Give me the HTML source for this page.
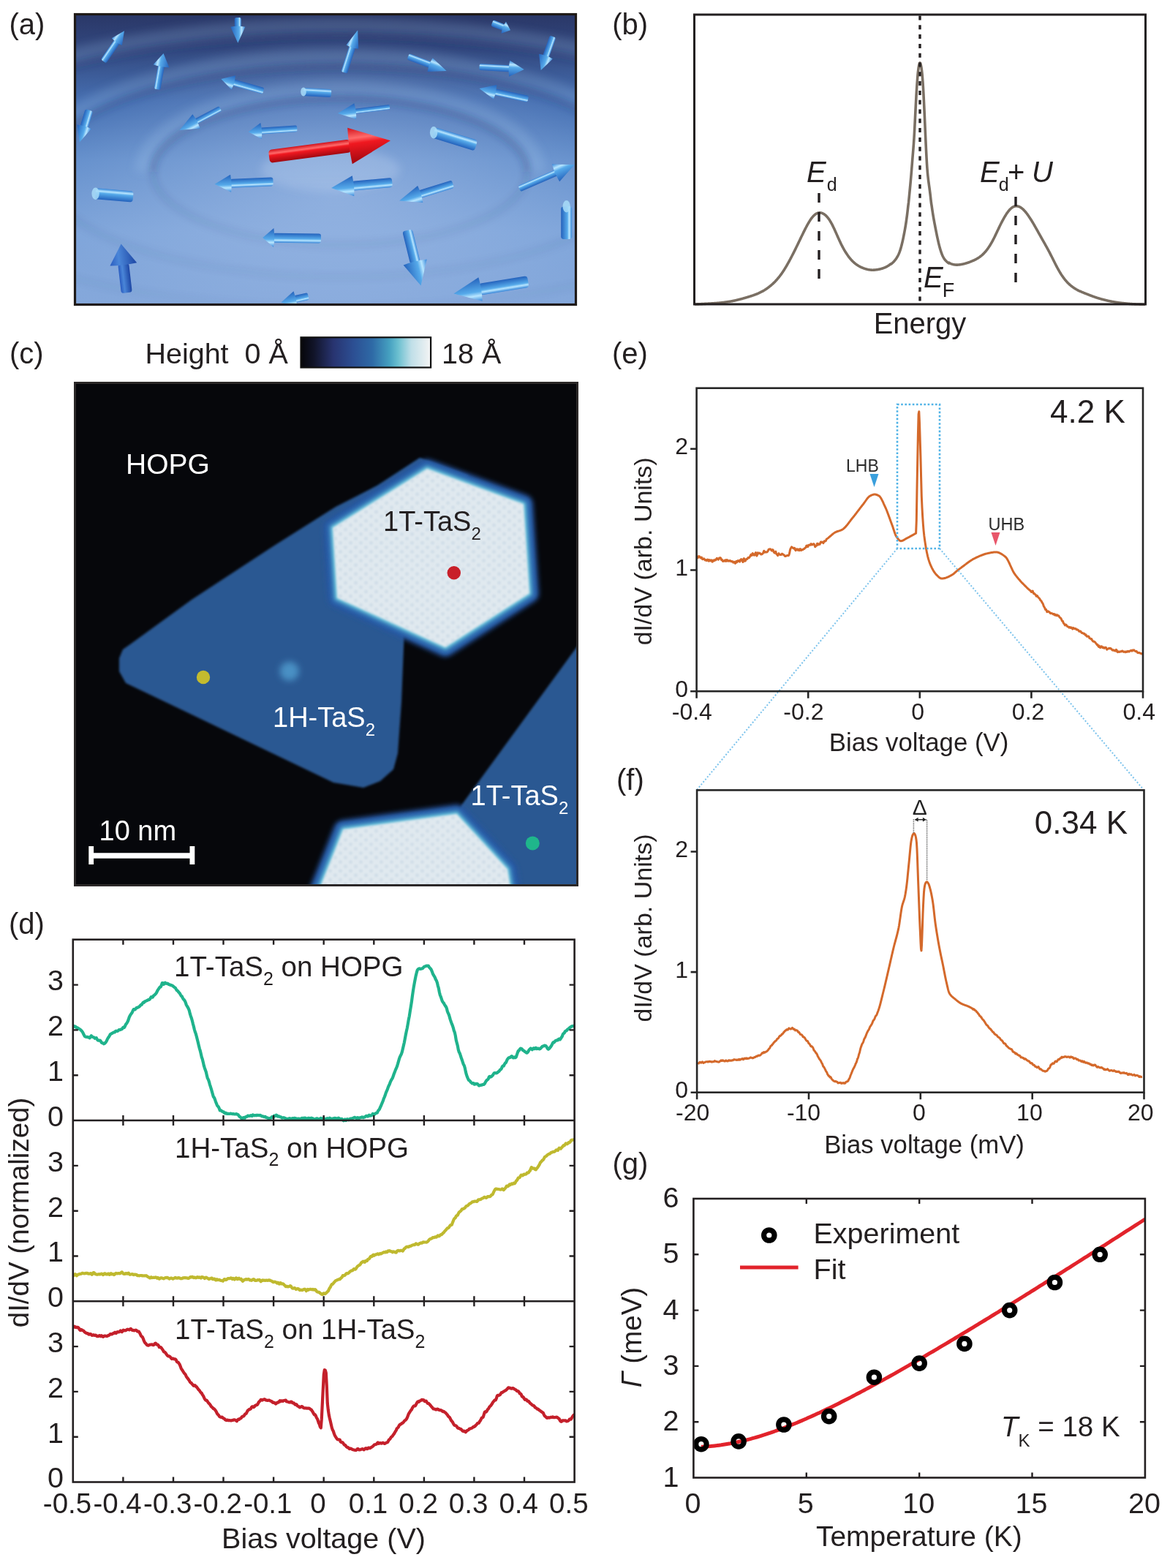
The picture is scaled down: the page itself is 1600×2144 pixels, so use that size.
<!DOCTYPE html><html><head><meta charset="utf-8"><title>Figure</title><style>html,body{margin:0;padding:0;background:#fff;}svg{display:block;}</style></head><body>
<svg width="1600" height="2144" viewBox="0 0 1600 2144" font-family="'Liberation Sans', Arial, Helvetica, sans-serif">
<rect width="1600" height="2144" fill="#fff"/>
<linearGradient id="abg" x1="0" y1="0" x2="0" y2="1"><stop offset="0" stop-color="#2a3767"/><stop offset="0.12" stop-color="#32487f"/><stop offset="0.3" stop-color="#4770b2"/><stop offset="0.5" stop-color="#6590cc"/><stop offset="0.75" stop-color="#7fa5da"/><stop offset="1" stop-color="#85a8db"/></linearGradient>
<radialGradient id="aglow" cx="0.52" cy="0.62" r="0.55"><stop offset="0" stop-color="#a6c0e8" stop-opacity="0.55"/><stop offset="1" stop-color="#a6c0e8" stop-opacity="0"/></radialGradient>
<linearGradient id="ablue" x1="0" y1="0" x2="0" y2="1"><stop offset="0" stop-color="#3484d8"/><stop offset="0.25" stop-color="#b8e6ff"/><stop offset="0.42" stop-color="#56aaea"/><stop offset="1" stop-color="#2462bc"/></linearGradient>
<linearGradient id="adark" x1="0" y1="0" x2="0" y2="1"><stop offset="0" stop-color="#2a5cc0"/><stop offset="0.35" stop-color="#4a86d8"/><stop offset="1" stop-color="#1d46a4"/></linearGradient>
<linearGradient id="ared" x1="0" y1="0" x2="0" y2="1"><stop offset="0" stop-color="#d0101a"/><stop offset="0.3" stop-color="#ff6a6a"/><stop offset="0.45" stop-color="#f01820"/><stop offset="1" stop-color="#a00810"/></linearGradient>
<clipPath id="clipa"><rect x="102.5" y="19.5" width="685.0" height="397.0"/></clipPath>
<filter id="abl" filterUnits="userSpaceOnUse" x="80" y="0" width="730" height="440"><feGaussianBlur stdDeviation="6"/></filter>
<filter id="abl2" x="-20%" y="-20%" width="140%" height="140%"><feGaussianBlur stdDeviation="1"/></filter>
<filter id="abl3" filterUnits="userSpaceOnUse" x="80" y="0" width="730" height="440"><feGaussianBlur stdDeviation="4"/></filter>
<g clip-path="url(#clipa)">
<rect x="102.5" y="19.5" width="685.0" height="397.0" fill="url(#abg)"/>
<rect x="102.5" y="19.5" width="685.0" height="397.0" fill="url(#aglow)"/>
<linearGradient id="afade" x1="0" y1="0" x2="0" y2="1"><stop offset="0" stop-color="#fff"/><stop offset="0.55" stop-color="#fff"/><stop offset="1" stop-color="#fff" stop-opacity="0.25"/></linearGradient>
<mask id="amask"><rect x="102.5" y="19.5" width="685.0" height="397.0" fill="url(#afade)"/></mask>
<g mask="url(#amask)">
<ellipse cx="452" cy="232" rx="95" ry="30" fill="#dbe8fa" fill-opacity="0.22" filter="url(#abl)"/>
<path d="M195,235 A270,114 0 0 1 735,235" fill="none" stroke="#b4d0f4" stroke-opacity="0.18" stroke-width="22" filter="url(#abl)"/>
<path d="M209,235 A256,100 0 0 1 721,235" fill="none" stroke="#1a3068" stroke-opacity="0.22" stroke-width="10" filter="url(#abl3)"/>
<path d="M209,235 A256,100 0 0 0 721,235" fill="none" stroke="#1a2a5a" stroke-opacity="0.10" stroke-width="9" filter="url(#abl3)"/>
<path d="M45,235 A420,158 0 0 1 885,235" fill="none" stroke="#b4d0f4" stroke-opacity="0.18" stroke-width="22" filter="url(#abl)"/>
<path d="M59,235 A406,144 0 0 1 871,235" fill="none" stroke="#1a3068" stroke-opacity="0.22" stroke-width="10" filter="url(#abl3)"/>
<path d="M59,235 A406,144 0 0 0 871,235" fill="none" stroke="#1a2a5a" stroke-opacity="0.10" stroke-width="9" filter="url(#abl3)"/>
<path d="M-135,235 A600,200 0 0 1 1065,235" fill="none" stroke="#b4d0f4" stroke-opacity="0.18" stroke-width="22" filter="url(#abl)"/>
<path d="M-121,235 A586,186 0 0 1 1051,235" fill="none" stroke="#1a3068" stroke-opacity="0.22" stroke-width="10" filter="url(#abl3)"/>
<path d="M-121,235 A586,186 0 0 0 1051,235" fill="none" stroke="#1a2a5a" stroke-opacity="0.10" stroke-width="9" filter="url(#abl3)"/>
</g>
<g transform="translate(141.6,83.9) rotate(-55.7)" opacity="1.0"><rect x="0" y="-4.4" width="33.36983224113418" height="8.8" rx="2.2" fill="url(#ablue)"/><path d="M32.36983224113418,-8.5 L50.36983224113418,0 L32.36983224113418,8.5 Q30.369832241134183,0 32.36983224113418,-8.5 Z" fill="url(#ablue)"/></g>
<g transform="translate(214.9,122.2) rotate(-80.0)" opacity="1.0"><rect x="0" y="-4.4" width="33.46328652120475" height="8.8" rx="2.2" fill="url(#ablue)"/><path d="M32.46328652120475,-11.0 L49.96328652120475,0 L32.46328652120475,11.0 Q30.46328652120475,0 32.46328652120475,-11.0 Z" fill="url(#ablue)"/></g>
<g transform="translate(325.3,24) rotate(90.0)" opacity="1.0"><rect x="0" y="-4.5" width="13.799999999999997" height="9" rx="2.25" fill="url(#ablue)"/><path d="M12.799999999999997,-10.0 L34.8,0 L12.799999999999997,10.0 Q10.799999999999997,0 12.799999999999997,-10.0 Z" fill="url(#ablue)"/></g>
<g transform="translate(121.9,150.6) rotate(106.7)" opacity="1.0"><rect x="0" y="-5.5" width="24.71706464767835" height="11" rx="2.75" fill="url(#ablue)"/><path d="M23.71706464767835,-10.0 L45.71706464767835,0 L23.71706464767835,10.0 Q21.71706464767835,0 23.71706464767835,-10.0 Z" fill="url(#ablue)"/></g>
<g transform="translate(360.3,124.4) rotate(-164.2)" opacity="1.0"><rect x="0" y="-4.4" width="43.677819834221346" height="8.8" rx="2.2" fill="url(#ablue)"/><path d="M42.677819834221346,-10.0 L60.177819834221346,0 L42.677819834221346,10.0 Q40.677819834221346,0 42.677819834221346,-10.0 Z" fill="url(#ablue)"/></g>
<g transform="translate(301.3,148.5) rotate(152.1)" opacity="1.0"><rect x="0" y="-3.85" width="38.118063975378725" height="7.7" rx="1.925" fill="url(#ablue)"/><path d="M37.118063975378725,-11.0 L63.118063975378725,0 L37.118063975378725,11.0 Q35.118063975378725,0 37.118063975378725,-11.0 Z" fill="url(#ablue)"/></g>
<g transform="translate(406.3,175.8) rotate(176.2)" opacity="1.0"><rect x="0" y="-4.4" width="50.34496989302933" height="8.8" rx="2.2" fill="url(#ablue)"/><path d="M49.34496989302933,-11.0 L66.84496989302933,0 L49.34496989302933,11.0 Q47.34496989302933,0 49.34496989302933,-11.0 Z" fill="url(#ablue)"/></g>
<g transform="translate(470.6,99.2) rotate(-72.2)" opacity="1.0"><rect x="0" y="-4.4" width="37.81422530954414" height="8.8" rx="2.2" fill="url(#ablue)"/><path d="M36.81422530954414,-8.75 L60.81422530954414,0 L36.81422530954414,8.75 Q34.81422530954414,0 36.81422530954414,-8.75 Z" fill="url(#ablue)"/></g>
<g transform="translate(558.1,77.3) rotate(20.6)" opacity="1.0"><rect x="0" y="-4.4" width="33.07441484313501" height="8.8" rx="2.2" fill="url(#ablue)"/><path d="M32.07441484313501,-10.0 L56.07441484313501,0 L32.07441484313501,10.0 Q30.07441484313501,0 32.07441484313501,-10.0 Z" fill="url(#ablue)"/></g>
<g transform="translate(655.5,91.6) rotate(3.1)" opacity="1.0"><rect x="0" y="-4.4" width="42.28890601079453" height="8.8" rx="2.2" fill="url(#ablue)"/><path d="M41.28890601079453,-11.0 L61.28890601079453,0 L41.28890601079453,11.0 Q39.28890601079453,0 41.28890601079453,-11.0 Z" fill="url(#ablue)"/></g>
<g transform="translate(673,31.4) rotate(21.6)" opacity="1.0"><rect x="0" y="-4.5" width="17.88884527085535" height="9" rx="2.25" fill="url(#ablue)"/><path d="M16.88884527085535,-8.75 L26.88884527085535,0 L16.88884527085535,8.75 Q14.888845270855349,0 16.88884527085535,-8.75 Z" fill="url(#ablue)"/></g>
<g transform="translate(756.1,50) rotate(109.6)" opacity="1.0"><rect x="0" y="-4.4" width="29.836052256504104" height="8.8" rx="2.2" fill="url(#ablue)"/><path d="M28.836052256504104,-10.0 L48.836052256504104,0 L28.836052256504104,10.0 Q26.836052256504104,0 28.836052256504104,-10.0 Z" fill="url(#ablue)"/></g>
<g transform="translate(722.2,135.3) rotate(-168.0)" opacity="1.0"><rect x="0" y="-4.4" width="47.19479452274936" height="8.8" rx="2.2" fill="url(#ablue)"/><path d="M46.19479452274936,-10.0 L68.19479452274936,0 L46.19479452274936,10.0 Q44.19479452274936,0 46.19479452274936,-10.0 Z" fill="url(#ablue)"/></g>
<g transform="translate(533,146.3) rotate(173.0)" opacity="1.0"><rect x="0" y="-3.3" width="48.63030085096672" height="6.6" rx="1.65" fill="url(#ablue)"/><path d="M47.63030085096672,-11.0 L71.63030085096672,0 L47.63030085096672,11.0 Q45.63030085096672,0 47.63030085096672,-11.0 Z" fill="url(#ablue)"/></g>
<g transform="translate(373.5,248.3) rotate(177.6)" opacity="1.0"><rect x="0" y="-6.0" width="58.96811864737094" height="12" rx="3.0" fill="url(#ablue)"/><path d="M57.96811864737094,-12.0 L79.96811864737094,0 L57.96811864737094,12.0 Q55.96811864737094,0 57.96811864737094,-12.0 Z" fill="url(#ablue)"/></g>
<g transform="translate(439,326) rotate(-179.2)" opacity="1.0"><rect x="0" y="-6.5" width="65.80758109352772" height="13" rx="3.25" fill="url(#ablue)"/><path d="M64.80758109352772,-13.0 L79.80758109352772,0 L64.80758109352772,13.0 Q62.807581093527716,0 64.80758109352772,-13.0 Z" fill="url(#ablue)"/></g>
<g transform="translate(421.6,405) rotate(167.1)" opacity="1.0"><rect x="0" y="-5.0" width="19.158747358895354" height="10" rx="2.5" fill="url(#ablue)"/><path d="M18.158747358895354,-11.0 L38.158747358895354,0 L18.158747358895354,11.0 Q16.158747358895354,0 18.158747358895354,-11.0 Z" fill="url(#ablue)"/></g>
<g transform="translate(536.3,249.4) rotate(174.8)" opacity="1.0"><rect x="0" y="-6.5" width="54.54639429682162" height="13" rx="3.25" fill="url(#ablue)"/><path d="M53.54639429682162,-14.0 L83.54639429682162,0 L53.54639429682162,14.0 Q51.54639429682162,0 53.54639429682162,-14.0 Z" fill="url(#ablue)"/></g>
<g transform="translate(619.4,251.6) rotate(162.7)" opacity="1.0"><rect x="0" y="-5.5" width="47.793879964486706" height="11" rx="2.75" fill="url(#ablue)"/><path d="M46.793879964486706,-12.0 L76.7938799644867,0 L46.793879964486706,12.0 Q44.793879964486706,0 46.793879964486706,-12.0 Z" fill="url(#ablue)"/></g>
<g transform="translate(710.2,258.1) rotate(-23.5)" opacity="1.0"><rect x="0" y="-4.4" width="55.31700917793357" height="8.8" rx="2.2" fill="url(#ablue)"/><path d="M54.31700917793357,-13.0 L82.31700917793357,0 L54.31700917793357,13.0 Q52.31700917793357,0 54.31700917793357,-13.0 Z" fill="url(#ablue)"/></g>
<g transform="translate(557,315) rotate(76.2)" opacity="1.0"><rect x="0" y="-7.0" width="45.75737907105666" height="14" rx="3.5" fill="url(#ablue)"/><path d="M44.75737907105666,-16.5 L77.75737907105666,0 L44.75737907105666,16.5 Q42.75737907105666,0 44.75737907105666,-16.5 Z" fill="url(#ablue)"/></g>
<g transform="translate(722.2,385) rotate(170.8)" opacity="1.0"><rect x="0" y="-8.0" width="67.01383402242637" height="16" rx="4.0" fill="url(#ablue)"/><path d="M66.01383402242637,-16.5 L103.01383402242637,0 L66.01383402242637,16.5 Q64.01383402242637,0 66.01383402242637,-16.5 Z" fill="url(#ablue)"/></g>
<g transform="translate(415,125.5) rotate(3.4)" opacity="1.0"><rect x="0" y="-5.5" width="38.06534769835567" height="11" rx="2.75" fill="url(#ablue)"/></g>
<ellipse cx="415" cy="125.5" rx="3.8" ry="6.1" fill="#a8dcf8" opacity="0.85"/>
<g transform="translate(593.1,181.3) rotate(17.1)" opacity="1.0"><rect x="0" y="-7.5" width="60.53032840493993" height="15" rx="3.75" fill="url(#ablue)"/></g>
<ellipse cx="593.1" cy="181.3" rx="5.2" ry="8.2" fill="#a8dcf8" opacity="0.85"/>
<g transform="translate(130.6,264.7) rotate(4.9)" opacity="1.0"><rect x="0" y="-7.5" width="51.5830999445467" height="15" rx="3.75" fill="url(#ablue)"/></g>
<ellipse cx="130.6" cy="264.7" rx="5.2" ry="8.2" fill="#a8dcf8" opacity="0.85"/>
<g transform="translate(774.7,282.2) rotate(90.0)" opacity="1.0"><rect x="0" y="-7.5" width="44.80000000000001" height="15" rx="3.75" fill="url(#ablue)"/></g>
<ellipse cx="774.7" cy="282.2" rx="5.2" ry="8.2" fill="#a8dcf8" opacity="0.85"/>
<g transform="translate(173.3,400.3) rotate(-96.6)" opacity="1.0"><rect x="0" y="-7.5" width="40.14298176280228" height="15" rx="3.75" fill="url(#adark)"/><path d="M39.14298176280228,-18.5 L67.14298176280228,0 L39.14298176280228,18.5 Q37.14298176280228,0 39.14298176280228,-18.5 Z" fill="url(#adark)"/></g>
<g transform="translate(368,214) rotate(-7.5)" opacity="1.0"><rect x="0" y="-9.0" width="112.42532663847487" height="18" rx="4.5" fill="url(#ared)"/><path d="M111.42532663847487,-25.0 L167.42532663847487,0 L111.42532663847487,25.0 Q109.42532663847487,0 111.42532663847487,-25.0 Z" fill="url(#ared)"/></g>
</g>
<rect x="102.5" y="19.5" width="685.0" height="397.0" fill="none" stroke="#1f1a17" stroke-width="3.2"/>
<path d="M950.00,416.02 L950.50,416.01 L951.00,416.00 L951.50,415.98 L952.00,415.97 L952.50,415.95 L953.00,415.93 L953.50,415.91 L954.00,415.89 L954.50,415.87 L955.00,415.85 L955.50,415.83 L956.00,415.81 L956.50,415.79 L957.00,415.76 L957.50,415.74 L958.00,415.71 L958.50,415.69 L959.00,415.66 L959.50,415.64 L960.00,415.61 L960.50,415.58 L961.00,415.55 L961.50,415.53 L962.00,415.50 L962.50,415.47 L963.00,415.45 L963.50,415.42 L964.00,415.39 L964.50,415.37 L965.00,415.34 L965.50,415.31 L966.00,415.29 L966.50,415.26 L967.00,415.23 L967.50,415.21 L968.00,415.18 L968.50,415.15 L969.00,415.13 L969.50,415.10 L970.00,415.08 L970.50,415.05 L971.00,415.02 L971.50,415.00 L972.00,414.97 L972.50,414.94 L973.00,414.91 L973.50,414.88 L974.00,414.85 L974.50,414.82 L975.00,414.79 L975.50,414.76 L976.00,414.73 L976.50,414.70 L977.00,414.66 L977.50,414.63 L978.00,414.59 L978.50,414.56 L979.00,414.52 L979.50,414.48 L980.00,414.44 L980.50,414.40 L981.00,414.36 L981.50,414.32 L982.00,414.28 L982.50,414.23 L983.00,414.18 L983.50,414.14 L984.00,414.09 L984.50,414.04 L985.00,413.99 L985.50,413.94 L986.00,413.88 L986.50,413.83 L987.00,413.78 L987.50,413.72 L988.00,413.66 L988.50,413.60 L989.00,413.54 L989.50,413.48 L990.00,413.42 L990.50,413.36 L991.00,413.29 L991.50,413.22 L992.00,413.16 L992.50,413.09 L993.00,413.02 L993.50,412.95 L994.00,412.88 L994.50,412.80 L995.00,412.73 L995.50,412.65 L996.00,412.58 L996.50,412.50 L997.00,412.42 L997.50,412.34 L998.00,412.26 L998.50,412.17 L999.00,412.09 L999.50,412.00 L1000.00,411.91 L1000.50,411.82 L1001.00,411.73 L1001.50,411.63 L1002.00,411.53 L1002.50,411.44 L1003.00,411.34 L1003.50,411.23 L1004.00,411.13 L1004.50,411.02 L1005.00,410.92 L1005.50,410.81 L1006.00,410.69 L1006.50,410.58 L1007.00,410.46 L1007.50,410.35 L1008.00,410.23 L1008.50,410.11 L1009.00,409.98 L1009.50,409.86 L1010.00,409.73 L1010.50,409.61 L1011.00,409.48 L1011.50,409.35 L1012.00,409.22 L1012.50,409.08 L1013.00,408.95 L1013.50,408.82 L1014.00,408.68 L1014.50,408.54 L1015.00,408.40 L1015.50,408.26 L1016.00,408.12 L1016.50,407.98 L1017.00,407.84 L1017.50,407.70 L1018.00,407.56 L1018.50,407.41 L1019.00,407.27 L1019.50,407.12 L1020.00,406.97 L1020.50,406.83 L1021.00,406.68 L1021.50,406.53 L1022.00,406.38 L1022.50,406.23 L1023.00,406.08 L1023.50,405.93 L1024.00,405.77 L1024.50,405.62 L1025.00,405.47 L1025.50,405.31 L1026.00,405.15 L1026.50,404.99 L1027.00,404.83 L1027.50,404.67 L1028.00,404.50 L1028.50,404.34 L1029.00,404.17 L1029.50,404.00 L1030.00,403.83 L1030.50,403.65 L1031.00,403.47 L1031.50,403.29 L1032.00,403.11 L1032.50,402.93 L1033.00,402.74 L1033.50,402.55 L1034.00,402.36 L1034.50,402.16 L1035.00,401.96 L1035.50,401.75 L1036.00,401.55 L1036.50,401.33 L1037.00,401.12 L1037.50,400.90 L1038.00,400.67 L1038.50,400.44 L1039.00,400.21 L1039.50,399.97 L1040.00,399.72 L1040.50,399.47 L1041.00,399.22 L1041.50,398.96 L1042.00,398.69 L1042.50,398.42 L1043.00,398.14 L1043.50,397.86 L1044.00,397.57 L1044.50,397.27 L1045.00,396.97 L1045.50,396.67 L1046.00,396.35 L1046.50,396.03 L1047.00,395.71 L1047.50,395.38 L1048.00,395.04 L1048.50,394.69 L1049.00,394.34 L1049.50,393.99 L1050.00,393.62 L1050.50,393.25 L1051.00,392.88 L1051.50,392.50 L1052.00,392.11 L1052.50,391.71 L1053.00,391.31 L1053.50,390.90 L1054.00,390.49 L1054.50,390.07 L1055.00,389.64 L1055.50,389.20 L1056.00,388.75 L1056.50,388.30 L1057.00,387.84 L1057.50,387.37 L1058.00,386.90 L1058.50,386.41 L1059.00,385.92 L1059.50,385.41 L1060.00,384.90 L1060.50,384.38 L1061.00,383.85 L1061.50,383.31 L1062.00,382.76 L1062.50,382.20 L1063.00,381.63 L1063.50,381.05 L1064.00,380.46 L1064.50,379.86 L1065.00,379.25 L1065.50,378.63 L1066.00,377.99 L1066.50,377.35 L1067.00,376.69 L1067.50,376.02 L1068.00,375.34 L1068.50,374.64 L1069.00,373.94 L1069.50,373.22 L1070.00,372.49 L1070.50,371.75 L1071.00,371.00 L1071.50,370.23 L1072.00,369.46 L1072.50,368.67 L1073.00,367.87 L1073.50,367.06 L1074.00,366.24 L1074.50,365.41 L1075.00,364.57 L1075.50,363.72 L1076.00,362.86 L1076.50,361.99 L1077.00,361.11 L1077.50,360.23 L1078.00,359.33 L1078.50,358.43 L1079.00,357.52 L1079.50,356.61 L1080.00,355.68 L1080.50,354.75 L1081.00,353.82 L1081.50,352.87 L1082.00,351.92 L1082.50,350.97 L1083.00,350.01 L1083.50,349.04 L1084.00,348.06 L1084.50,347.09 L1085.00,346.10 L1085.50,345.11 L1086.00,344.12 L1086.50,343.12 L1087.00,342.11 L1087.50,341.10 L1088.00,340.09 L1088.50,339.07 L1089.00,338.05 L1089.50,337.02 L1090.00,336.00 L1090.50,334.96 L1091.00,333.93 L1091.50,332.89 L1092.00,331.86 L1092.50,330.82 L1093.00,329.78 L1093.50,328.74 L1094.00,327.69 L1094.50,326.65 L1095.00,325.61 L1095.50,324.57 L1096.00,323.54 L1096.50,322.50 L1097.00,321.47 L1097.50,320.44 L1098.00,319.42 L1098.50,318.40 L1099.00,317.39 L1099.50,316.38 L1100.00,315.38 L1100.50,314.39 L1101.00,313.41 L1101.50,312.44 L1102.00,311.47 L1102.50,310.52 L1103.00,309.58 L1103.50,308.65 L1104.00,307.74 L1104.50,306.84 L1105.00,305.95 L1105.50,305.09 L1106.00,304.23 L1106.50,303.40 L1107.00,302.59 L1107.50,301.80 L1108.00,301.02 L1108.50,300.28 L1109.00,299.55 L1109.50,298.85 L1110.00,298.17 L1110.50,297.52 L1111.00,296.90 L1111.50,296.31 L1112.00,295.74 L1112.50,295.21 L1113.00,294.70 L1113.50,294.23 L1114.00,293.79 L1114.50,293.38 L1115.00,293.00 L1115.50,292.65 L1116.00,292.33 L1116.50,292.05 L1117.00,291.79 L1117.50,291.57 L1118.00,291.38 L1118.50,291.22 L1119.00,291.09 L1119.50,290.99 L1120.00,290.92 L1120.50,290.88 L1121.00,290.87 L1121.50,290.88 L1122.00,290.93 L1122.50,291.00 L1123.00,291.10 L1123.50,291.23 L1124.00,291.38 L1124.50,291.56 L1125.00,291.77 L1125.50,292.01 L1126.00,292.27 L1126.50,292.56 L1127.00,292.88 L1127.50,293.22 L1128.00,293.60 L1128.50,294.00 L1129.00,294.43 L1129.50,294.88 L1130.00,295.37 L1130.50,295.89 L1131.00,296.44 L1131.50,297.01 L1132.00,297.62 L1132.50,298.25 L1133.00,298.92 L1133.50,299.62 L1134.00,300.34 L1134.50,301.10 L1135.00,301.88 L1135.50,302.70 L1136.00,303.54 L1136.50,304.41 L1137.00,305.31 L1137.50,306.23 L1138.00,307.18 L1138.50,308.15 L1139.00,309.15 L1139.50,310.17 L1140.00,311.20 L1140.50,312.26 L1141.00,313.33 L1141.50,314.42 L1142.00,315.52 L1142.50,316.63 L1143.00,317.75 L1143.50,318.88 L1144.00,320.01 L1144.50,321.14 L1145.00,322.27 L1145.50,323.40 L1146.00,324.52 L1146.50,325.64 L1147.00,326.75 L1147.50,327.85 L1148.00,328.94 L1148.50,330.02 L1149.00,331.08 L1149.50,332.13 L1150.00,333.17 L1150.50,334.18 L1151.00,335.18 L1151.50,336.17 L1152.00,337.13 L1152.50,338.08 L1153.00,339.01 L1153.50,339.92 L1154.00,340.82 L1154.50,341.70 L1155.00,342.56 L1155.50,343.40 L1156.00,344.23 L1156.50,345.04 L1157.00,345.83 L1157.50,346.60 L1158.00,347.36 L1158.50,348.10 L1159.00,348.83 L1159.50,349.53 L1160.00,350.22 L1160.50,350.90 L1161.00,351.56 L1161.50,352.20 L1162.00,352.82 L1162.50,353.43 L1163.00,354.02 L1163.50,354.60 L1164.00,355.16 L1164.50,355.70 L1165.00,356.23 L1165.50,356.75 L1166.00,357.25 L1166.50,357.73 L1167.00,358.20 L1167.50,358.66 L1168.00,359.10 L1168.50,359.53 L1169.00,359.95 L1169.50,360.36 L1170.00,360.75 L1170.50,361.13 L1171.00,361.49 L1171.50,361.85 L1172.00,362.20 L1172.50,362.53 L1173.00,362.85 L1173.50,363.16 L1174.00,363.47 L1174.50,363.76 L1175.00,364.04 L1175.50,364.32 L1176.00,364.58 L1176.50,364.84 L1177.00,365.09 L1177.50,365.33 L1178.00,365.56 L1178.50,365.78 L1179.00,366.00 L1179.50,366.21 L1180.00,366.42 L1180.50,366.62 L1181.00,366.81 L1181.50,366.99 L1182.00,367.17 L1182.50,367.34 L1183.00,367.50 L1183.50,367.66 L1184.00,367.81 L1184.50,367.95 L1185.00,368.09 L1185.50,368.22 L1186.00,368.34 L1186.50,368.45 L1187.00,368.56 L1187.50,368.65 L1188.00,368.74 L1188.50,368.83 L1189.00,368.90 L1189.50,368.96 L1190.00,369.02 L1190.50,369.07 L1191.00,369.11 L1191.50,369.14 L1192.00,369.16 L1192.50,369.18 L1193.00,369.19 L1193.50,369.19 L1194.00,369.18 L1194.50,369.17 L1195.00,369.15 L1195.50,369.12 L1196.00,369.09 L1196.50,369.05 L1197.00,369.00 L1197.50,368.95 L1198.00,368.89 L1198.50,368.82 L1199.00,368.76 L1199.50,368.68 L1200.00,368.60 L1200.50,368.52 L1201.00,368.43 L1201.50,368.33 L1202.00,368.23 L1202.50,368.13 L1203.00,368.02 L1203.50,367.90 L1204.00,367.78 L1204.50,367.65 L1205.00,367.52 L1205.50,367.38 L1206.00,367.23 L1206.50,367.08 L1207.00,366.92 L1207.50,366.75 L1208.00,366.58 L1208.50,366.40 L1209.00,366.20 L1209.50,366.00 L1210.00,365.79 L1210.50,365.57 L1211.00,365.34 L1211.50,365.11 L1212.00,364.85 L1212.50,364.59 L1213.00,364.32 L1213.50,364.04 L1214.00,363.74 L1214.50,363.43 L1215.00,363.11 L1215.50,362.78 L1216.00,362.43 L1216.50,362.06 L1217.00,361.69 L1217.50,361.29 L1218.00,360.88 L1218.50,361.11 L1219.00,360.71 L1219.50,360.30 L1220.00,359.87 L1220.50,359.42 L1221.00,358.96 L1221.50,358.48 L1222.00,357.97 L1222.50,357.44 L1223.00,356.88 L1223.50,356.30 L1224.00,355.68 L1224.50,355.04 L1225.00,354.37 L1225.50,353.66 L1226.00,352.92 L1226.50,352.13 L1227.00,351.30 L1227.50,350.42 L1228.00,349.48 L1228.50,348.47 L1229.00,347.39 L1229.50,346.22 L1230.00,344.97 L1230.50,343.62 L1231.00,342.17 L1231.50,340.60 L1232.00,338.92 L1232.50,337.12 L1233.00,335.21 L1233.50,333.19 L1234.00,331.07 L1234.50,328.85 L1235.00,326.54 L1235.50,324.15 L1236.00,321.69 L1236.50,319.14 L1237.00,316.50 L1237.50,313.75 L1238.00,310.88 L1238.50,307.84 L1239.00,304.63 L1239.50,301.21 L1240.00,297.58 L1240.50,293.71 L1241.00,289.61 L1241.50,285.29 L1242.00,280.76 L1242.50,277.05 L1243.00,272.00 L1243.50,266.92 L1244.00,261.77 L1244.50,256.51 L1245.00,251.12 L1245.50,245.56 L1246.00,239.81 L1246.50,233.83 L1247.00,227.65 L1247.50,221.39 L1248.00,215.18 L1248.50,209.08 L1249.00,202.95 L1249.50,196.39 L1250.00,188.91 L1250.50,180.23 L1251.00,170.52 L1251.50,160.37 L1252.00,150.37 L1252.50,140.78 L1253.00,131.68 L1253.50,123.23 L1254.00,115.59 L1254.50,108.78 L1255.00,102.77 L1255.50,97.71 L1256.00,93.65 L1256.50,90.49 L1257.00,88.08 L1257.50,86.47 L1258.00,85.86 L1258.50,86.31 L1259.00,87.69 L1259.50,89.80 L1260.00,92.58 L1260.50,96.17 L1261.00,100.74 L1261.50,106.31 L1262.00,112.93 L1262.50,120.76 L1263.00,129.80 L1263.50,139.76 L1264.00,150.31 L1264.50,161.28 L1265.00,172.55 L1265.50,183.78 L1266.00,194.68 L1266.50,205.10 L1267.00,214.86 L1267.50,223.57 L1268.00,230.86 L1268.50,236.78 L1269.00,241.68 L1269.50,245.92 L1270.00,249.76 L1270.50,253.38 L1271.00,256.99 L1271.50,260.75 L1272.00,264.77 L1272.50,269.05 L1273.00,273.49 L1273.50,277.94 L1274.00,280.72 L1274.50,284.31 L1275.00,287.75 L1275.50,291.02 L1276.00,294.13 L1276.50,297.08 L1277.00,299.92 L1277.50,302.66 L1278.00,305.32 L1278.50,307.95 L1279.00,310.54 L1279.50,313.10 L1280.00,315.64 L1280.50,318.14 L1281.00,320.61 L1281.50,323.03 L1282.00,325.39 L1282.50,327.69 L1283.00,329.91 L1283.50,332.06 L1284.00,334.12 L1284.50,336.10 L1285.00,337.99 L1285.50,339.78 L1286.00,341.48 L1286.50,343.08 L1287.00,344.58 L1287.50,345.99 L1288.00,347.30 L1288.50,348.53 L1289.00,349.67 L1289.50,350.72 L1290.00,351.69 L1290.50,352.58 L1291.00,353.40 L1291.50,354.15 L1292.00,354.83 L1292.50,355.47 L1293.00,356.05 L1293.50,356.59 L1294.00,357.09 L1294.50,357.57 L1295.00,358.02 L1295.50,358.45 L1296.00,358.86 L1296.50,359.25 L1297.00,359.61 L1297.50,359.95 L1298.00,359.19 L1298.50,359.52 L1299.00,359.82 L1299.50,360.10 L1300.00,360.36 L1300.50,360.59 L1301.00,360.80 L1301.50,361.00 L1302.00,361.17 L1302.50,361.33 L1303.00,361.47 L1303.50,361.59 L1304.00,361.70 L1304.50,361.80 L1305.00,361.88 L1305.50,361.95 L1306.00,362.00 L1306.50,362.05 L1307.00,362.08 L1307.50,362.10 L1308.00,362.12 L1308.50,362.12 L1309.00,362.12 L1309.50,362.10 L1310.00,362.08 L1310.50,362.05 L1311.00,362.01 L1311.50,361.96 L1312.00,361.91 L1312.50,361.85 L1313.00,361.78 L1313.50,361.71 L1314.00,361.63 L1314.50,361.54 L1315.00,361.45 L1315.50,361.35 L1316.00,361.25 L1316.50,361.15 L1317.00,361.04 L1317.50,360.92 L1318.00,360.80 L1318.50,360.67 L1319.00,360.55 L1319.50,360.41 L1320.00,360.27 L1320.50,360.13 L1321.00,359.99 L1321.50,359.84 L1322.00,359.68 L1322.50,359.52 L1323.00,359.36 L1323.50,359.20 L1324.00,359.03 L1324.50,358.85 L1325.00,358.68 L1325.50,358.50 L1326.00,358.31 L1326.50,358.13 L1327.00,357.93 L1327.50,357.74 L1328.00,357.54 L1328.50,357.34 L1329.00,357.13 L1329.50,356.92 L1330.00,356.71 L1330.50,356.49 L1331.00,356.27 L1331.50,356.04 L1332.00,355.81 L1332.50,355.57 L1333.00,355.33 L1333.50,355.08 L1334.00,354.83 L1334.50,354.57 L1335.00,354.30 L1335.50,354.02 L1336.00,353.74 L1336.50,353.45 L1337.00,353.16 L1337.50,352.85 L1338.00,352.53 L1338.50,352.21 L1339.00,351.87 L1339.50,351.53 L1340.00,351.17 L1340.50,350.80 L1341.00,350.42 L1341.50,350.03 L1342.00,349.63 L1342.50,349.21 L1343.00,348.78 L1343.50,348.33 L1344.00,347.87 L1344.50,347.39 L1345.00,346.90 L1345.50,346.39 L1346.00,345.87 L1346.50,345.33 L1347.00,344.77 L1347.50,344.20 L1348.00,343.61 L1348.50,343.01 L1349.00,342.38 L1349.50,341.74 L1350.00,341.09 L1350.50,340.41 L1351.00,339.72 L1351.50,339.01 L1352.00,338.29 L1352.50,337.54 L1353.00,336.78 L1353.50,336.00 L1354.00,335.20 L1354.50,334.38 L1355.00,333.55 L1355.50,332.69 L1356.00,331.82 L1356.50,330.92 L1357.00,330.01 L1357.50,329.08 L1358.00,328.14 L1358.50,327.18 L1359.00,326.20 L1359.50,325.20 L1360.00,324.20 L1360.50,323.18 L1361.00,322.15 L1361.50,321.11 L1362.00,320.06 L1362.50,319.01 L1363.00,317.95 L1363.50,316.89 L1364.00,315.83 L1364.50,314.77 L1365.00,313.72 L1365.50,312.67 L1366.00,311.62 L1366.50,310.59 L1367.00,309.56 L1367.50,308.53 L1368.00,307.52 L1368.50,306.52 L1369.00,305.53 L1369.50,304.55 L1370.00,303.59 L1370.50,302.63 L1371.00,301.69 L1371.50,300.77 L1372.00,299.85 L1372.50,298.95 L1373.00,298.07 L1373.50,297.20 L1374.00,296.35 L1374.50,295.51 L1375.00,294.69 L1375.50,293.89 L1376.00,293.11 L1376.50,292.34 L1377.00,291.60 L1377.50,290.88 L1378.00,290.18 L1378.50,289.51 L1379.00,288.86 L1379.50,288.23 L1380.00,287.63 L1380.50,287.06 L1381.00,286.52 L1381.50,286.00 L1382.00,285.51 L1382.50,285.05 L1383.00,284.62 L1383.50,284.23 L1384.00,283.86 L1384.50,283.52 L1385.00,283.21 L1385.50,282.93 L1386.00,282.69 L1386.50,282.47 L1387.00,282.29 L1387.50,282.13 L1388.00,282.01 L1388.50,281.91 L1389.00,281.85 L1389.50,281.81 L1390.00,281.80 L1390.50,281.83 L1391.00,281.87 L1391.50,281.95 L1392.00,282.05 L1392.50,282.19 L1393.00,282.34 L1393.50,282.53 L1394.00,282.73 L1394.50,282.97 L1395.00,283.23 L1395.50,283.51 L1396.00,283.82 L1396.50,284.16 L1397.00,284.51 L1397.50,284.89 L1398.00,285.30 L1398.50,285.72 L1399.00,286.17 L1399.50,286.64 L1400.00,287.13 L1400.50,287.64 L1401.00,288.18 L1401.50,288.73 L1402.00,289.30 L1402.50,289.89 L1403.00,290.50 L1403.50,291.12 L1404.00,291.76 L1404.50,292.42 L1405.00,293.09 L1405.50,293.78 L1406.00,294.48 L1406.50,295.19 L1407.00,295.92 L1407.50,296.65 L1408.00,297.40 L1408.50,298.16 L1409.00,298.94 L1409.50,299.72 L1410.00,300.51 L1410.50,301.31 L1411.00,302.12 L1411.50,302.94 L1412.00,303.77 L1412.50,304.61 L1413.00,305.45 L1413.50,306.30 L1414.00,307.16 L1414.50,308.02 L1415.00,308.89 L1415.50,309.77 L1416.00,310.64 L1416.50,311.53 L1417.00,312.41 L1417.50,313.30 L1418.00,314.19 L1418.50,315.09 L1419.00,315.98 L1419.50,316.88 L1420.00,317.77 L1420.50,318.67 L1421.00,319.56 L1421.50,320.45 L1422.00,321.35 L1422.50,322.24 L1423.00,323.13 L1423.50,324.01 L1424.00,324.90 L1424.50,325.79 L1425.00,326.67 L1425.50,327.55 L1426.00,328.44 L1426.50,329.32 L1427.00,330.20 L1427.50,331.08 L1428.00,331.96 L1428.50,332.85 L1429.00,333.73 L1429.50,334.62 L1430.00,335.51 L1430.50,336.41 L1431.00,337.31 L1431.50,338.21 L1432.00,339.12 L1432.50,340.04 L1433.00,340.96 L1433.50,341.89 L1434.00,342.82 L1434.50,343.76 L1435.00,344.71 L1435.50,345.67 L1436.00,346.63 L1436.50,347.61 L1437.00,348.58 L1437.50,349.57 L1438.00,350.55 L1438.50,351.55 L1439.00,352.54 L1439.50,353.54 L1440.00,354.54 L1440.50,355.54 L1441.00,356.54 L1441.50,357.54 L1442.00,358.53 L1442.50,359.52 L1443.00,360.51 L1443.50,361.49 L1444.00,362.46 L1444.50,363.42 L1445.00,364.37 L1445.50,365.32 L1446.00,366.25 L1446.50,367.17 L1447.00,368.08 L1447.50,368.97 L1448.00,369.86 L1448.50,370.72 L1449.00,371.58 L1449.50,372.42 L1450.00,373.24 L1450.50,374.05 L1451.00,374.84 L1451.50,375.62 L1452.00,376.38 L1452.50,377.12 L1453.00,377.85 L1453.50,378.56 L1454.00,379.26 L1454.50,379.94 L1455.00,380.61 L1455.50,381.26 L1456.00,381.89 L1456.50,382.51 L1457.00,383.12 L1457.50,383.71 L1458.00,384.28 L1458.50,384.84 L1459.00,385.39 L1459.50,385.93 L1460.00,386.45 L1460.50,386.95 L1461.00,387.45 L1461.50,387.93 L1462.00,388.40 L1462.50,388.86 L1463.00,389.31 L1463.50,389.75 L1464.00,390.18 L1464.50,390.59 L1465.00,391.00 L1465.50,391.39 L1466.00,391.78 L1466.50,392.15 L1467.00,392.52 L1467.50,392.88 L1468.00,393.23 L1468.50,393.57 L1469.00,393.90 L1469.50,394.23 L1470.00,394.54 L1470.50,394.85 L1471.00,395.15 L1471.50,395.45 L1472.00,395.73 L1472.50,396.01 L1473.00,396.29 L1473.50,396.55 L1474.00,396.81 L1474.50,397.07 L1475.00,397.31 L1475.50,397.56 L1476.00,397.79 L1476.50,398.03 L1477.00,398.25 L1477.50,398.48 L1478.00,398.70 L1478.50,398.91 L1479.00,399.13 L1479.50,399.34 L1480.00,399.55 L1480.50,399.75 L1481.00,399.96 L1481.50,400.16 L1482.00,400.36 L1482.50,400.56 L1483.00,400.76 L1483.50,400.96 L1484.00,401.15 L1484.50,401.35 L1485.00,401.55 L1485.50,401.75 L1486.00,401.94 L1486.50,402.14 L1487.00,402.34 L1487.50,402.53 L1488.00,402.73 L1488.50,402.93 L1489.00,403.12 L1489.50,403.32 L1490.00,403.51 L1490.50,403.70 L1491.00,403.90 L1491.50,404.09 L1492.00,404.28 L1492.50,404.47 L1493.00,404.66 L1493.50,404.84 L1494.00,405.03 L1494.50,405.21 L1495.00,405.39 L1495.50,405.57 L1496.00,405.75 L1496.50,405.93 L1497.00,406.10 L1497.50,406.27 L1498.00,406.44 L1498.50,406.61 L1499.00,406.78 L1499.50,406.94 L1500.00,407.10 L1500.50,407.27 L1501.00,407.42 L1501.50,407.58 L1502.00,407.74 L1502.50,407.89 L1503.00,408.04 L1503.50,408.19 L1504.00,408.34 L1504.50,408.49 L1505.00,408.63 L1505.50,408.77 L1506.00,408.91 L1506.50,409.05 L1507.00,409.19 L1507.50,409.33 L1508.00,409.46 L1508.50,409.59 L1509.00,409.72 L1509.50,409.85 L1510.00,409.98 L1510.50,410.11 L1511.00,410.23 L1511.50,410.35 L1512.00,410.47 L1512.50,410.59 L1513.00,410.71 L1513.50,410.83 L1514.00,410.94 L1514.50,411.06 L1515.00,411.17 L1515.50,411.28 L1516.00,411.39 L1516.50,411.50 L1517.00,411.60 L1517.50,411.71 L1518.00,411.81 L1518.50,411.91 L1519.00,412.01 L1519.50,412.11 L1520.00,412.21 L1520.50,412.31 L1521.00,412.40 L1521.50,412.49 L1522.00,412.59 L1522.50,412.68 L1523.00,412.77 L1523.50,412.85 L1524.00,412.94 L1524.50,413.02 L1525.00,413.11 L1525.50,413.19 L1526.00,413.27 L1526.50,413.35 L1527.00,413.43 L1527.50,413.50 L1528.00,413.58 L1528.50,413.65 L1529.00,413.72 L1529.50,413.79 L1530.00,413.86 L1530.50,413.93 L1531.00,414.00 L1531.50,414.06 L1532.00,414.12 L1532.50,414.19 L1533.00,414.25 L1533.50,414.31 L1534.00,414.37 L1534.50,414.43 L1535.00,414.49 L1535.50,414.54 L1536.00,414.60 L1536.50,414.65 L1537.00,414.70 L1537.50,414.76 L1538.00,414.81 L1538.50,414.86 L1539.00,414.91 L1539.50,414.96 L1540.00,415.00 L1540.50,415.05 L1541.00,415.10 L1541.50,415.14 L1542.00,415.18 L1542.50,415.23 L1543.00,415.27 L1543.50,415.31 L1544.00,415.35 L1544.50,415.39 L1545.00,415.43 L1545.50,415.46 L1546.00,415.50 L1546.50,415.54 L1547.00,415.57 L1547.50,415.60 L1548.00,415.63 L1548.50,415.67 L1549.00,415.70 L1549.50,415.72 L1550.00,415.75 L1550.50,415.78 L1551.00,415.81 L1551.50,415.83 L1552.00,415.86 L1552.50,415.88 L1553.00,415.90 L1553.50,415.93 L1554.00,415.95 L1554.50,415.97 L1555.00,415.99 L1555.50,416.01 L1556.00,416.03 L1556.50,416.04 L1557.00,416.06 L1557.50,416.07 L1558.00,416.09 L1558.50,416.10 L1559.00,416.12 L1559.50,416.13 L1560.00,416.14 L1560.50,416.15 L1561.00,416.16 L1561.50,416.17 L1562.00,416.18 L1562.50,416.19 L1563.00,416.20 L1563.50,416.21 L1564.00,416.21 L1564.50,416.22 L1565.00,416.22 L1565.50,416.23 L1566.00,416.23" fill="none" stroke="#7a6f63" stroke-width="3.6" stroke-linejoin="round"/>
<line x1="1258" y1="21.5" x2="1258" y2="414.5" stroke="#231f20" stroke-width="3.4" stroke-dasharray="6,6.8"/>
<line x1="1120" y1="264" x2="1120" y2="382" stroke="#231f20" stroke-width="3.4" stroke-dasharray="13,13"/>
<line x1="1389" y1="269" x2="1389" y2="387" stroke="#231f20" stroke-width="3.4" stroke-dasharray="13,13"/>
<rect x="949.5" y="20" width="617" height="396" fill="none" stroke="#231f20" stroke-width="3"/>
<text x="1103" y="249" font-size="40" fill="#231f20"><tspan font-style="italic">E</tspan><tspan font-size="25" dx="1" dy="12">d</tspan></text>
<text x="1340" y="249" font-size="40" fill="#231f20"><tspan font-style="italic">E</tspan><tspan font-size="25" dx="-1" dy="12">d</tspan><tspan dx="-1.5" dy="-12">+ </tspan><tspan font-style="italic" dx="-1.5">U</tspan></text>
<text x="1263" y="393" font-size="40" fill="#231f20"><tspan font-style="italic">E</tspan><tspan font-size="27" dx="-1" dy="13">F</tspan></text>
<text x="1258" y="456" font-size="40" text-anchor="middle" fill="#231f20" >Energy</text>
<linearGradient id="cbar" x1="0" y1="0" x2="1" y2="0"><stop offset="0" stop-color="#06060a"/><stop offset="0.1" stop-color="#111429"/><stop offset="0.25" stop-color="#283470"/><stop offset="0.4" stop-color="#2c4e92"/><stop offset="0.55" stop-color="#2e6aa6"/><stop offset="0.68" stop-color="#45a0c0"/><stop offset="0.75" stop-color="#6cc0d0"/><stop offset="0.85" stop-color="#c0dfe8"/><stop offset="1" stop-color="#f4f4f4"/></linearGradient>
<rect x="411.5" y="461.3" width="177.6" height="41.2" fill="url(#cbar)" stroke="#111" stroke-width="2.2"/>
<text x="198.4" y="497.4" font-size="39.5" text-anchor="start" fill="#231f20" >Height</text>
<text x="334.5" y="497.4" font-size="39.5" text-anchor="start" fill="#231f20" >0 Å</text>
<text x="604" y="497.4" font-size="39.5" text-anchor="start" fill="#231f20" >18 Å</text>
<clipPath id="clipc"><rect x="102.5" y="523.5" width="687.0" height="687.0"/></clipPath>
<filter id="bl15" x="-10%" y="-10%" width="120%" height="120%"><feGaussianBlur stdDeviation="1.6"/></filter>
<filter id="bl3" x="-20%" y="-20%" width="140%" height="140%"><feGaussianBlur stdDeviation="3.2"/></filter>
<filter id="bl2" x="-20%" y="-20%" width="140%" height="140%"><feGaussianBlur stdDeviation="2"/></filter>
<filter id="bl1" x="-20%" y="-20%" width="140%" height="140%"><feGaussianBlur stdDeviation="1.1"/></filter>
<filter id="bl5" x="-50%" y="-50%" width="200%" height="200%"><feGaussianBlur stdDeviation="4"/></filter>
<pattern id="cdw" x="0" y="0" width="14" height="12.12" patternUnits="userSpaceOnUse"><circle cx="3.5" cy="3" r="2.6" fill="#b8ccdc" fill-opacity="0.35"/><circle cx="10.5" cy="9.06" r="2.6" fill="#b8ccdc" fill-opacity="0.35"/></pattern>
<g clip-path="url(#clipc)">
<rect x="102.5" y="523.5" width="687.0" height="687.0" fill="#06070b"/>
<polygon points="163,900 168,888 178,881 262,820 375,746 459,693 516,664 574,626 640,650 553,860 549,960 544,1030 538,1052 520,1068 497,1077 456,1070 172,934 163,918" fill="#2b5892" filter="url(#bl15)"/>
<polygon points="795,876 795,1215 697,1215 694,1189 628,1108 631,1101" fill="#2b5892" filter="url(#bl15)"/>
<polygon points="584,642 715,690 723,811 609,884 462,817 456,722" fill="#2857a2" stroke="#2857a2" stroke-width="28" stroke-linejoin="round" filter="url(#bl3)"/>
<polygon points="584,642 715,690 723,811 609,884 462,817 456,722" fill="#2d6cb0" stroke="#2d6cb0" stroke-width="19" stroke-linejoin="round" filter="url(#bl2)"/>
<polygon points="584,642 715,690 723,811 609,884 462,817 456,722" fill="#62bcd8" stroke="#62bcd8" stroke-width="9" stroke-linejoin="round" filter="url(#bl2)"/>
<polygon points="584,642 715,690 723,811 609,884 462,817 456,722" fill="#e0e9ef" stroke="#e0e9ef" stroke-width="2" stroke-linejoin="round" filter="url(#bl15)"/>
<polygon points="584,642 715,690 723,811 609,884 462,817 456,722" fill="url(#cdw)" stroke="none" filter="url(#bl1)"/>
<polygon points="470,1135 624,1114 693,1189 698,1220 436,1220" fill="#2857a2" stroke="#2857a2" stroke-width="28" stroke-linejoin="round" filter="url(#bl3)"/>
<polygon points="470,1135 624,1114 693,1189 698,1220 436,1220" fill="#2d6cb0" stroke="#2d6cb0" stroke-width="19" stroke-linejoin="round" filter="url(#bl2)"/>
<polygon points="470,1135 624,1114 693,1189 698,1220 436,1220" fill="#62bcd8" stroke="#62bcd8" stroke-width="9" stroke-linejoin="round" filter="url(#bl2)"/>
<polygon points="470,1135 624,1114 693,1189 698,1220 436,1220" fill="#e0e9ef" stroke="#e0e9ef" stroke-width="2" stroke-linejoin="round" filter="url(#bl15)"/>
<polygon points="470,1135 624,1114 693,1189 698,1220 436,1220" fill="url(#cdw)" stroke="none" filter="url(#bl1)"/>
<circle cx="395.8" cy="917.8" r="13" fill="#4a90c4" filter="url(#bl5)"/>
<circle cx="620.8" cy="783.2" r="9.2" fill="#c81f29"/>
<circle cx="278" cy="926" r="9.2" fill="#c3bb2e"/>
<circle cx="728.3" cy="1153" r="9.5" fill="#1fb68b"/>
</g>
<rect x="102.5" y="523.5" width="687.0" height="687.0" fill="none" stroke="#2b2828" stroke-width="3"/>
<text x="172" y="648" font-size="39" text-anchor="start" fill="#ffffff" >HOPG</text>
<text x="524" y="725.8" font-size="38" fill="#231f20">1T-TaS<tspan font-size="24" dy="12">2</tspan></text>
<text x="373" y="993.5" font-size="38" fill="#ffffff">1H-TaS<tspan font-size="24" dy="12">2</tspan></text>
<text x="643.5" y="1100.9" font-size="38" fill="#ffffff">1T-TaS<tspan font-size="24" dy="12">2</tspan></text>
<text x="135.5" y="1149.4" font-size="38" text-anchor="start" fill="#ffffff" >10 nm</text>
<path d="M121.3,1166.3 h145 v7.5 h-145 Z M121.3,1157 h6.8 v25 h-6.8 Z M259.5,1157 h6.8 v25 h-6.8 Z" fill="#fff"/>
<clipPath id="clipd"><rect x="99.8" y="1284.7" width="685.8000000000001" height="741.8"/></clipPath>
<g clip-path="url(#clipd)">
<path d="M99.8,1402.2 L100.8,1403.2 L101.8,1403.8 L102.8,1403.4 L103.8,1404.1 L104.8,1405.4 L105.8,1405.2 L106.8,1405.8 L107.8,1406.7 L108.8,1407.2 L109.8,1407.8 L110.8,1408.7 L111.8,1409.7 L112.8,1411.1 L113.8,1413.0 L114.8,1415.1 L115.8,1416.9 L116.8,1417.6 L117.8,1417.8 L118.8,1417.8 L119.8,1418.2 L120.8,1418.2 L121.8,1418.8 L122.8,1419.3 L123.8,1417.5 L124.8,1416.2 L125.8,1417.4 L126.8,1418.0 L127.8,1418.2 L128.8,1418.6 L129.8,1419.8 L130.8,1419.6 L131.8,1419.1 L132.8,1421.2 L133.8,1422.4 L134.8,1422.6 L135.8,1422.8 L136.8,1422.5 L137.8,1423.7 L138.8,1425.5 L139.8,1426.0 L140.8,1426.4 L141.8,1427.3 L142.8,1427.0 L143.8,1426.0 L144.8,1425.0 L145.8,1423.3 L146.8,1421.0 L147.8,1419.2 L148.8,1417.9 L149.8,1416.2 L150.8,1414.3 L151.8,1413.7 L152.8,1413.2 L153.8,1412.7 L154.8,1411.9 L155.8,1411.5 L156.8,1411.5 L157.8,1410.1 L158.8,1409.7 L159.8,1410.0 L160.8,1409.9 L161.8,1409.1 L162.8,1408.1 L163.8,1408.1 L164.8,1407.9 L165.8,1407.3 L166.8,1407.2 L167.8,1405.6 L168.8,1404.6 L169.8,1405.0 L170.8,1403.5 L171.8,1401.1 L172.8,1399.8 L173.8,1398.3 L174.8,1396.4 L175.8,1393.9 L176.8,1390.7 L177.8,1388.7 L178.8,1387.2 L179.8,1385.7 L180.8,1384.3 L181.8,1381.8 L182.8,1380.1 L183.8,1380.3 L184.8,1380.4 L185.8,1378.9 L186.8,1377.9 L187.8,1377.8 L188.8,1377.3 L189.8,1376.9 L190.8,1376.1 L191.8,1374.9 L192.8,1373.9 L193.8,1373.7 L194.8,1372.0 L195.8,1370.7 L196.8,1370.9 L197.8,1369.6 L198.8,1369.0 L199.8,1368.6 L200.8,1368.1 L201.8,1367.7 L202.8,1367.0 L203.8,1367.0 L204.8,1366.3 L205.8,1364.7 L206.8,1363.2 L207.8,1363.7 L208.8,1363.6 L209.8,1361.7 L210.8,1360.9 L211.8,1360.1 L212.8,1359.1 L213.8,1357.7 L214.8,1355.7 L215.8,1353.8 L216.8,1352.4 L217.8,1350.8 L218.8,1349.6 L219.8,1349.4 L220.8,1347.1 L221.8,1344.1 L222.8,1344.1 L223.8,1345.9 L224.8,1345.2 L225.8,1343.6 L226.8,1344.5 L227.8,1344.9 L228.8,1344.7 L229.8,1345.2 L230.8,1346.0 L231.8,1346.4 L232.8,1346.6 L233.8,1347.2 L234.8,1347.2 L235.8,1347.8 L236.8,1348.5 L237.8,1349.4 L238.8,1350.2 L239.8,1350.6 L240.8,1352.6 L241.8,1354.1 L242.8,1354.6 L243.8,1356.0 L244.8,1357.1 L245.8,1358.2 L246.8,1360.0 L247.8,1361.7 L248.8,1362.5 L249.8,1364.4 L250.8,1366.2 L251.8,1367.1 L252.8,1368.7 L253.8,1370.9 L254.8,1374.0 L255.8,1375.7 L256.8,1377.3 L257.8,1379.2 L258.8,1381.7 L259.8,1386.1 L260.8,1389.2 L261.8,1391.9 L262.8,1395.5 L263.8,1399.6 L264.8,1403.3 L265.8,1407.5 L266.8,1411.0 L267.8,1413.6 L268.8,1417.3 L269.8,1421.3 L270.8,1425.3 L271.8,1429.4 L272.8,1433.5 L273.8,1436.8 L274.8,1441.1 L275.8,1445.5 L276.8,1448.3 L277.8,1452.4 L278.8,1457.0 L279.8,1460.2 L280.8,1463.0 L281.8,1465.7 L282.8,1470.2 L283.8,1474.3 L284.8,1476.0 L285.8,1478.7 L286.8,1482.6 L287.8,1485.6 L288.8,1488.8 L289.8,1492.4 L290.8,1495.8 L291.8,1499.5 L292.8,1500.6 L293.8,1502.9 L294.8,1505.9 L295.8,1508.5 L296.8,1511.1 L297.8,1512.6 L298.8,1513.6 L299.8,1515.7 L300.8,1518.4 L301.8,1518.3 L302.8,1518.7 L303.8,1519.7 L304.8,1520.2 L305.8,1520.4 L306.8,1521.7 L307.8,1522.3 L308.8,1521.7 L309.8,1522.7 L310.8,1522.8 L311.8,1522.7 L312.8,1522.9 L313.8,1523.0 L314.8,1522.7 L315.8,1522.6 L316.8,1523.0 L317.8,1523.1 L318.8,1523.2 L319.8,1523.2 L320.8,1523.5 L321.8,1523.5 L322.8,1523.1 L323.8,1523.3 L324.8,1523.8 L325.8,1524.4 L326.8,1525.9 L327.8,1527.0 L328.8,1527.4 L329.8,1528.8 L330.8,1529.7 L331.8,1529.4 L332.8,1528.1 L333.8,1528.1 L334.8,1528.7 L335.8,1527.3 L336.8,1527.0 L337.8,1526.8 L338.8,1525.6 L339.8,1525.7 L340.8,1525.9 L341.8,1525.9 L342.8,1525.1 L343.8,1525.7 L344.8,1526.0 L345.8,1524.4 L346.8,1524.9 L347.8,1525.3 L348.8,1525.1 L349.8,1525.1 L350.8,1524.9 L351.8,1525.1 L352.8,1524.8 L353.8,1525.0 L354.8,1525.2 L355.8,1524.8 L356.8,1525.3 L357.8,1526.2 L358.8,1526.5 L359.8,1526.3 L360.8,1527.1 L361.8,1527.1 L362.8,1526.8 L363.8,1528.0 L364.8,1528.2 L365.8,1528.4 L366.8,1529.2 L367.8,1529.8 L368.8,1529.4 L369.8,1528.5 L370.8,1528.6 L371.8,1527.2 L372.8,1527.8 L373.8,1527.9 L374.8,1525.6 L375.8,1525.8 L376.8,1525.9 L377.8,1524.7 L378.8,1525.1 L379.8,1526.6 L380.8,1526.4 L381.8,1526.3 L382.8,1527.1 L383.8,1527.3 L384.8,1527.7 L385.8,1528.6 L386.8,1528.5 L387.8,1528.1 L388.8,1528.5 L389.8,1528.9 L390.8,1529.5 L391.8,1529.9 L392.8,1529.8 L393.8,1529.8 L394.8,1529.6 L395.8,1529.2 L396.8,1529.3 L397.8,1530.5 L398.8,1530.1 L399.8,1529.0 L400.8,1529.1 L401.8,1529.1 L402.8,1528.9 L403.8,1529.1 L404.8,1529.3 L405.8,1529.9 L406.8,1530.0 L407.8,1529.5 L408.8,1530.0 L409.8,1529.7 L410.8,1529.9 L411.8,1529.8 L412.8,1528.8 L413.8,1528.9 L414.8,1529.2 L415.8,1528.7 L416.8,1528.8 L417.8,1528.7 L418.8,1529.3 L419.8,1530.1 L420.8,1529.2 L421.8,1528.8 L422.8,1528.9 L423.8,1529.3 L424.8,1529.0 L425.8,1528.7 L426.8,1529.1 L427.8,1529.3 L428.8,1529.8 L429.8,1530.6 L430.8,1530.2 L431.8,1529.9 L432.8,1529.3 L433.8,1529.4 L434.8,1530.0 L435.8,1530.0 L436.8,1530.7 L437.8,1529.5 L438.8,1528.9 L439.8,1529.4 L440.8,1529.6 L441.8,1529.5 L442.8,1529.0 L443.8,1529.7 L444.8,1530.1 L445.8,1530.1 L446.8,1529.4 L447.8,1529.1 L448.8,1529.8 L449.8,1530.0 L450.8,1528.7 L451.8,1529.1 L452.8,1529.9 L453.8,1529.9 L454.8,1529.5 L455.8,1529.4 L456.8,1529.0 L457.8,1528.9 L458.8,1529.1 L459.8,1529.1 L460.8,1529.8 L461.8,1529.1 L462.8,1528.7 L463.8,1529.2 L464.8,1530.0 L465.8,1530.6 L466.8,1529.9 L467.8,1530.1 L468.8,1531.3 L469.8,1532.4 L470.8,1531.6 L471.8,1530.5 L472.8,1532.0 L473.8,1531.5 L474.8,1530.2 L475.8,1530.7 L476.8,1531.3 L477.8,1530.3 L478.8,1529.7 L479.8,1529.6 L480.8,1529.6 L481.8,1529.3 L482.8,1528.8 L483.8,1528.3 L484.8,1527.8 L485.8,1528.2 L486.8,1528.8 L487.8,1529.1 L488.8,1528.2 L489.8,1528.3 L490.8,1529.0 L491.8,1528.6 L492.8,1528.1 L493.8,1528.1 L494.8,1527.4 L495.8,1527.5 L496.8,1528.2 L497.8,1527.5 L498.8,1527.4 L499.8,1526.8 L500.8,1525.8 L501.8,1525.8 L502.8,1526.5 L503.8,1525.7 L504.8,1524.7 L505.8,1525.6 L506.8,1525.4 L507.8,1525.4 L508.8,1524.6 L509.8,1522.9 L510.8,1523.6 L511.8,1523.8 L512.8,1523.0 L513.8,1522.3 L514.8,1521.9 L515.8,1521.6 L516.8,1519.4 L517.8,1517.9 L518.8,1516.8 L519.8,1514.5 L520.8,1512.4 L521.8,1510.0 L522.8,1507.7 L523.8,1505.3 L524.8,1502.2 L525.8,1500.0 L526.8,1497.2 L527.8,1494.2 L528.8,1491.9 L529.8,1489.7 L530.8,1486.6 L531.8,1484.3 L532.8,1482.4 L533.8,1479.5 L534.8,1477.3 L535.8,1475.7 L536.8,1474.1 L537.8,1471.2 L538.8,1468.3 L539.8,1465.9 L540.8,1463.1 L541.8,1460.8 L542.8,1458.5 L543.8,1455.3 L544.8,1451.8 L545.8,1448.3 L546.8,1445.4 L547.8,1443.3 L548.8,1441.4 L549.8,1438.5 L550.8,1434.2 L551.8,1430.1 L552.8,1425.6 L553.8,1420.3 L554.8,1415.0 L555.8,1410.1 L556.8,1405.6 L557.8,1400.1 L558.8,1394.2 L559.8,1389.3 L560.8,1382.8 L561.8,1376.7 L562.8,1370.4 L563.8,1362.7 L564.8,1355.7 L565.8,1349.5 L566.8,1343.8 L567.8,1338.6 L568.8,1333.7 L569.8,1329.7 L570.8,1326.3 L571.8,1325.2 L572.8,1324.5 L573.8,1324.3 L574.8,1325.0 L575.8,1324.8 L576.8,1324.4 L577.8,1324.2 L578.8,1323.2 L579.8,1322.0 L580.8,1321.6 L581.8,1321.3 L582.8,1320.6 L583.8,1320.8 L584.8,1320.6 L585.8,1320.5 L586.8,1322.4 L587.8,1323.5 L588.8,1324.5 L589.8,1326.0 L590.8,1328.4 L591.8,1331.2 L592.8,1333.2 L593.8,1334.8 L594.8,1336.6 L595.8,1339.1 L596.8,1340.8 L597.8,1343.4 L598.8,1347.8 L599.8,1351.1 L600.8,1356.4 L601.8,1360.5 L602.8,1362.8 L603.8,1365.8 L604.8,1368.8 L605.8,1370.4 L606.8,1371.4 L607.8,1373.5 L608.8,1375.1 L609.8,1376.4 L610.8,1378.6 L611.8,1382.7 L612.8,1385.3 L613.8,1387.2 L614.8,1390.6 L615.8,1394.1 L616.8,1397.1 L617.8,1399.9 L618.8,1402.2 L619.8,1405.3 L620.8,1409.2 L621.8,1411.6 L622.8,1416.1 L623.8,1422.4 L624.8,1426.1 L625.8,1429.9 L626.8,1435.4 L627.8,1438.6 L628.8,1440.3 L629.8,1443.3 L630.8,1446.5 L631.8,1449.3 L632.8,1452.3 L633.8,1455.2 L634.8,1457.0 L635.8,1460.3 L636.8,1465.3 L637.8,1469.2 L638.8,1472.2 L639.8,1474.5 L640.8,1476.7 L641.8,1477.4 L642.8,1478.3 L643.8,1479.6 L644.8,1480.5 L645.8,1481.4 L646.8,1481.0 L647.8,1481.3 L648.8,1482.7 L649.8,1482.4 L650.8,1481.8 L651.8,1482.2 L652.8,1481.9 L653.8,1482.9 L654.8,1484.3 L655.8,1484.3 L656.8,1483.9 L657.8,1483.6 L658.8,1483.6 L659.8,1483.1 L660.8,1482.8 L661.8,1482.8 L662.8,1481.7 L663.8,1479.8 L664.8,1478.1 L665.8,1476.9 L666.8,1476.3 L667.8,1475.2 L668.8,1472.5 L669.8,1471.8 L670.8,1472.7 L671.8,1472.2 L672.8,1471.2 L673.8,1470.4 L674.8,1468.6 L675.8,1467.2 L676.8,1467.0 L677.8,1467.2 L678.8,1467.3 L679.8,1467.0 L680.8,1466.0 L681.8,1465.3 L682.8,1464.5 L683.8,1462.8 L684.8,1462.3 L685.8,1461.2 L686.8,1458.5 L687.8,1457.3 L688.8,1457.5 L689.8,1455.4 L690.8,1453.7 L691.8,1453.2 L692.8,1450.9 L693.8,1448.5 L694.8,1447.3 L695.8,1446.3 L696.8,1446.1 L697.8,1446.0 L698.8,1444.7 L699.8,1444.1 L700.8,1445.1 L701.8,1446.4 L702.8,1446.2 L703.8,1445.5 L704.8,1446.2 L705.8,1445.2 L706.8,1442.4 L707.8,1439.4 L708.8,1436.9 L709.8,1436.4 L710.8,1434.7 L711.8,1433.6 L712.8,1433.8 L713.8,1434.3 L714.8,1435.9 L715.8,1436.4 L716.8,1437.0 L717.8,1438.1 L718.8,1438.5 L719.8,1439.4 L720.8,1439.7 L721.8,1438.6 L722.8,1436.9 L723.8,1435.2 L724.8,1434.3 L725.8,1433.5 L726.8,1434.2 L727.8,1435.2 L728.8,1433.9 L729.8,1433.1 L730.8,1434.1 L731.8,1433.5 L732.8,1432.7 L733.8,1434.1 L734.8,1434.0 L735.8,1433.5 L736.8,1433.8 L737.8,1434.3 L738.8,1434.0 L739.8,1432.8 L740.8,1431.9 L741.8,1430.7 L742.8,1430.4 L743.8,1430.2 L744.8,1429.5 L745.8,1429.7 L746.8,1430.5 L747.8,1431.9 L748.8,1433.8 L749.8,1434.6 L750.8,1434.0 L751.8,1432.9 L752.8,1431.7 L753.8,1430.3 L754.8,1428.4 L755.8,1426.3 L756.8,1425.0 L757.8,1425.3 L758.8,1424.0 L759.8,1423.0 L760.8,1422.6 L761.8,1422.4 L762.8,1422.5 L763.8,1420.9 L764.8,1420.5 L765.8,1421.3 L766.8,1420.1 L767.8,1418.5 L768.8,1417.0 L769.8,1414.1 L770.8,1413.0 L771.8,1412.4 L772.8,1410.2 L773.8,1409.6 L774.8,1409.4 L775.8,1407.9 L776.8,1407.3 L777.8,1406.4 L778.8,1405.5 L779.8,1404.7 L780.8,1404.0 L781.8,1403.3 L782.8,1403.1 L783.8,1403.1 L784.8,1402.6" fill="none" stroke="#1fb38c" stroke-width="4.2" stroke-linejoin="round" stroke-linecap="round"/>
<path d="M99.8,1744.5 L100.8,1744.0 L101.8,1743.4 L102.8,1742.2 L103.8,1743.0 L104.8,1744.3 L105.8,1743.1 L106.8,1742.7 L107.8,1742.7 L108.8,1741.9 L109.8,1742.0 L110.8,1741.9 L111.8,1741.2 L112.8,1740.8 L113.8,1741.1 L114.8,1741.3 L115.8,1741.3 L116.8,1741.1 L117.8,1740.9 L118.8,1740.8 L119.8,1741.1 L120.8,1741.7 L121.8,1741.5 L122.8,1741.6 L123.8,1741.1 L124.8,1741.3 L125.8,1742.8 L126.8,1741.8 L127.8,1740.1 L128.8,1740.3 L129.8,1741.5 L130.8,1742.3 L131.8,1742.5 L132.8,1742.8 L133.8,1742.5 L134.8,1742.3 L135.8,1742.2 L136.8,1742.5 L137.8,1742.1 L138.8,1741.5 L139.8,1742.1 L140.8,1743.1 L141.8,1742.6 L142.8,1741.3 L143.8,1741.4 L144.8,1742.3 L145.8,1742.4 L146.8,1742.5 L147.8,1741.7 L148.8,1741.6 L149.8,1742.8 L150.8,1741.6 L151.8,1741.2 L152.8,1742.3 L153.8,1742.2 L154.8,1742.0 L155.8,1743.0 L156.8,1742.6 L157.8,1741.4 L158.8,1740.9 L159.8,1741.2 L160.8,1741.4 L161.8,1741.0 L162.8,1741.0 L163.8,1741.4 L164.8,1740.9 L165.8,1739.9 L166.8,1739.3 L167.8,1740.5 L168.8,1741.7 L169.8,1741.9 L170.8,1741.9 L171.8,1741.0 L172.8,1741.3 L173.8,1741.7 L174.8,1741.0 L175.8,1740.7 L176.8,1742.2 L177.8,1742.9 L178.8,1742.5 L179.8,1742.3 L180.8,1742.0 L181.8,1742.7 L182.8,1743.1 L183.8,1742.5 L184.8,1742.7 L185.8,1742.8 L186.8,1743.1 L187.8,1744.2 L188.8,1743.9 L189.8,1744.2 L190.8,1744.4 L191.8,1744.0 L192.8,1744.0 L193.8,1744.0 L194.8,1744.5 L195.8,1744.5 L196.8,1744.3 L197.8,1744.4 L198.8,1744.5 L199.8,1744.2 L200.8,1744.6 L201.8,1745.7 L202.8,1746.3 L203.8,1746.6 L204.8,1747.5 L205.8,1747.5 L206.8,1746.3 L207.8,1747.1 L208.8,1747.0 L209.8,1746.7 L210.8,1746.9 L211.8,1746.8 L212.8,1746.4 L213.8,1746.8 L214.8,1747.7 L215.8,1746.9 L216.8,1747.8 L217.8,1748.7 L218.8,1748.0 L219.8,1747.4 L220.8,1747.3 L221.8,1747.6 L222.8,1748.0 L223.8,1748.4 L224.8,1747.8 L225.8,1747.2 L226.8,1747.2 L227.8,1746.9 L228.8,1746.8 L229.8,1747.4 L230.8,1748.0 L231.8,1748.6 L232.8,1747.9 L233.8,1747.6 L234.8,1747.7 L235.8,1748.4 L236.8,1748.6 L237.8,1747.9 L238.8,1747.5 L239.8,1746.9 L240.8,1747.4 L241.8,1747.6 L242.8,1747.7 L243.8,1747.2 L244.8,1747.3 L245.8,1747.6 L246.8,1748.1 L247.8,1748.3 L248.8,1748.1 L249.8,1747.5 L250.8,1747.2 L251.8,1747.4 L252.8,1747.0 L253.8,1747.3 L254.8,1747.3 L255.8,1747.4 L256.8,1747.8 L257.8,1747.9 L258.8,1747.4 L259.8,1746.4 L260.8,1746.0 L261.8,1746.5 L262.8,1745.8 L263.8,1746.2 L264.8,1747.0 L265.8,1746.5 L266.8,1747.0 L267.8,1747.4 L268.8,1747.0 L269.8,1746.2 L270.8,1746.3 L271.8,1746.9 L272.8,1746.4 L273.8,1746.8 L274.8,1747.5 L275.8,1746.2 L276.8,1746.1 L277.8,1746.5 L278.8,1747.1 L279.8,1748.1 L280.8,1747.2 L281.8,1746.6 L282.8,1747.2 L283.8,1747.6 L284.8,1748.4 L285.8,1749.0 L286.8,1748.3 L287.8,1748.4 L288.8,1747.7 L289.8,1747.7 L290.8,1749.2 L291.8,1749.1 L292.8,1748.5 L293.8,1749.0 L294.8,1750.4 L295.8,1750.5 L296.8,1749.3 L297.8,1750.1 L298.8,1750.0 L299.8,1749.8 L300.8,1750.5 L301.8,1750.9 L302.8,1750.9 L303.8,1751.2 L304.8,1751.7 L305.8,1750.3 L306.8,1749.0 L307.8,1749.2 L308.8,1750.1 L309.8,1749.8 L310.8,1748.7 L311.8,1748.1 L312.8,1748.0 L313.8,1748.2 L314.8,1748.0 L315.8,1747.4 L316.8,1747.9 L317.8,1749.0 L318.8,1748.0 L319.8,1748.5 L320.8,1749.5 L321.8,1748.4 L322.8,1747.3 L323.8,1747.9 L324.8,1749.2 L325.8,1748.7 L326.8,1747.8 L327.8,1748.7 L328.8,1749.4 L329.8,1748.8 L330.8,1750.5 L331.8,1751.8 L332.8,1751.0 L333.8,1750.0 L334.8,1749.9 L335.8,1749.2 L336.8,1749.0 L337.8,1749.7 L338.8,1749.2 L339.8,1748.9 L340.8,1749.7 L341.8,1750.5 L342.8,1750.4 L343.8,1750.8 L344.8,1750.4 L345.8,1749.5 L346.8,1749.1 L347.8,1749.6 L348.8,1750.8 L349.8,1750.9 L350.8,1750.9 L351.8,1750.5 L352.8,1750.0 L353.8,1750.2 L354.8,1749.9 L355.8,1751.2 L356.8,1752.2 L357.8,1751.1 L358.8,1750.4 L359.8,1750.8 L360.8,1750.5 L361.8,1750.8 L362.8,1750.9 L363.8,1750.6 L364.8,1750.7 L365.8,1750.8 L366.8,1750.7 L367.8,1750.3 L368.8,1750.5 L369.8,1751.0 L370.8,1751.4 L371.8,1751.8 L372.8,1752.7 L373.8,1753.2 L374.8,1752.6 L375.8,1752.8 L376.8,1752.9 L377.8,1753.6 L378.8,1754.5 L379.8,1753.7 L380.8,1754.2 L381.8,1755.6 L382.8,1754.4 L383.8,1754.1 L384.8,1755.5 L385.8,1755.3 L386.8,1755.3 L387.8,1756.0 L388.8,1757.1 L389.8,1757.9 L390.8,1759.2 L391.8,1759.2 L392.8,1758.8 L393.8,1759.3 L394.8,1759.2 L395.8,1758.9 L396.8,1758.2 L397.8,1758.7 L398.8,1760.2 L399.8,1761.5 L400.8,1761.7 L401.8,1761.4 L402.8,1761.0 L403.8,1761.8 L404.8,1763.0 L405.8,1762.4 L406.8,1762.1 L407.8,1762.1 L408.8,1763.1 L409.8,1764.0 L410.8,1763.5 L411.8,1763.7 L412.8,1764.1 L413.8,1763.9 L414.8,1763.3 L415.8,1762.9 L416.8,1762.7 L417.8,1763.5 L418.8,1765.2 L419.8,1764.1 L420.8,1763.0 L421.8,1763.8 L422.8,1763.2 L423.8,1762.9 L424.8,1762.8 L425.8,1763.1 L426.8,1763.3 L427.8,1762.8 L428.8,1763.5 L429.8,1763.7 L430.8,1763.1 L431.8,1763.7 L432.8,1765.5 L433.8,1766.3 L434.8,1766.7 L435.8,1766.8 L436.8,1767.2 L437.8,1768.4 L438.8,1768.8 L439.8,1769.7 L440.8,1770.0 L441.8,1768.9 L442.8,1768.3 L443.8,1769.0 L444.8,1769.1 L445.8,1768.1 L446.8,1767.2 L447.8,1766.2 L448.8,1765.4 L449.8,1763.2 L450.8,1761.1 L451.8,1760.0 L452.8,1757.6 L453.8,1756.1 L454.8,1755.9 L455.8,1754.8 L456.8,1753.4 L457.8,1752.4 L458.8,1751.3 L459.8,1750.7 L460.8,1750.4 L461.8,1749.9 L462.8,1749.5 L463.8,1749.1 L464.8,1749.3 L465.8,1748.0 L466.8,1747.2 L467.8,1746.2 L468.8,1744.0 L469.8,1744.1 L470.8,1744.2 L471.8,1743.7 L472.8,1742.2 L473.8,1741.2 L474.8,1741.3 L475.8,1741.2 L476.8,1740.5 L477.8,1739.6 L478.8,1738.6 L479.8,1737.8 L480.8,1737.4 L481.8,1737.3 L482.8,1736.5 L483.8,1735.1 L484.8,1735.2 L485.8,1735.6 L486.8,1734.7 L487.8,1733.0 L488.8,1731.6 L489.8,1730.8 L490.8,1730.2 L491.8,1729.6 L492.8,1728.7 L493.8,1726.9 L494.8,1726.0 L495.8,1725.5 L496.8,1724.7 L497.8,1725.3 L498.8,1725.8 L499.8,1724.2 L500.8,1724.1 L501.8,1724.2 L502.8,1722.3 L503.8,1721.6 L504.8,1721.2 L505.8,1719.8 L506.8,1718.2 L507.8,1717.7 L508.8,1718.0 L509.8,1716.1 L510.8,1715.7 L511.8,1716.7 L512.8,1715.9 L513.8,1715.4 L514.8,1715.3 L515.8,1714.6 L516.8,1714.4 L517.8,1715.3 L518.8,1714.6 L519.8,1713.9 L520.8,1714.5 L521.8,1713.9 L522.8,1713.4 L523.8,1712.8 L524.8,1712.2 L525.8,1712.3 L526.8,1712.4 L527.8,1711.5 L528.8,1712.2 L529.8,1712.0 L530.8,1710.4 L531.8,1710.5 L532.8,1710.2 L533.8,1711.0 L534.8,1711.2 L535.8,1711.3 L536.8,1712.3 L537.8,1711.4 L538.8,1711.5 L539.8,1711.7 L540.8,1712.5 L541.8,1712.6 L542.8,1710.9 L543.8,1710.1 L544.8,1709.9 L545.8,1710.3 L546.8,1710.3 L547.8,1709.8 L548.8,1709.8 L549.8,1710.0 L550.8,1710.5 L551.8,1709.1 L552.8,1707.4 L553.8,1707.0 L554.8,1705.7 L555.8,1705.0 L556.8,1704.7 L557.8,1705.1 L558.8,1705.0 L559.8,1704.0 L560.8,1703.9 L561.8,1703.9 L562.8,1703.1 L563.8,1702.8 L564.8,1702.2 L565.8,1702.0 L566.8,1702.2 L567.8,1701.5 L568.8,1700.4 L569.8,1701.0 L570.8,1701.4 L571.8,1701.8 L572.8,1701.2 L573.8,1700.0 L574.8,1699.9 L575.8,1699.4 L576.8,1699.7 L577.8,1699.0 L578.8,1698.4 L579.8,1698.6 L580.8,1698.5 L581.8,1698.5 L582.8,1698.6 L583.8,1698.4 L584.8,1697.7 L585.8,1696.6 L586.8,1695.3 L587.8,1694.3 L588.8,1693.8 L589.8,1693.7 L590.8,1693.2 L591.8,1692.0 L592.8,1692.2 L593.8,1692.1 L594.8,1691.3 L595.8,1691.4 L596.8,1691.7 L597.8,1690.5 L598.8,1689.5 L599.8,1690.3 L600.8,1690.2 L601.8,1689.0 L602.8,1688.1 L603.8,1688.2 L604.8,1687.3 L605.8,1685.9 L606.8,1685.5 L607.8,1683.9 L608.8,1682.8 L609.8,1681.9 L610.8,1680.5 L611.8,1679.3 L612.8,1679.1 L613.8,1678.5 L614.8,1676.8 L615.8,1675.4 L616.8,1675.2 L617.8,1674.7 L618.8,1672.1 L619.8,1669.5 L620.8,1667.0 L621.8,1665.8 L622.8,1665.2 L623.8,1662.9 L624.8,1662.0 L625.8,1661.6 L626.8,1659.4 L627.8,1657.6 L628.8,1656.8 L629.8,1656.1 L630.8,1655.1 L631.8,1653.3 L632.8,1653.1 L633.8,1653.0 L634.8,1652.1 L635.8,1651.6 L636.8,1650.2 L637.8,1649.0 L638.8,1648.8 L639.8,1648.3 L640.8,1647.3 L641.8,1646.2 L642.8,1645.7 L643.8,1645.1 L644.8,1644.4 L645.8,1643.4 L646.8,1643.2 L647.8,1643.2 L648.8,1642.5 L649.8,1642.5 L650.8,1642.5 L651.8,1643.0 L652.8,1642.5 L653.8,1640.7 L654.8,1640.3 L655.8,1640.3 L656.8,1640.1 L657.8,1639.7 L658.8,1638.8 L659.8,1638.5 L660.8,1638.1 L661.8,1637.2 L662.8,1636.8 L663.8,1637.3 L664.8,1637.8 L665.8,1637.3 L666.8,1636.2 L667.8,1636.2 L668.8,1636.1 L669.8,1636.1 L670.8,1635.6 L671.8,1634.2 L672.8,1633.7 L673.8,1633.0 L674.8,1630.7 L675.8,1628.5 L676.8,1626.7 L677.8,1625.6 L678.8,1625.7 L679.8,1625.8 L680.8,1626.0 L681.8,1626.0 L682.8,1626.2 L683.8,1626.5 L684.8,1626.6 L685.8,1626.2 L686.8,1625.5 L687.8,1626.2 L688.8,1627.1 L689.8,1625.9 L690.8,1624.8 L691.8,1623.6 L692.8,1621.8 L693.8,1621.5 L694.8,1622.1 L695.8,1621.1 L696.8,1619.5 L697.8,1620.2 L698.8,1619.3 L699.8,1618.4 L700.8,1619.1 L701.8,1618.2 L702.8,1617.6 L703.8,1618.3 L704.8,1617.0 L705.8,1614.8 L706.8,1614.0 L707.8,1612.5 L708.8,1610.6 L709.8,1610.4 L710.8,1610.0 L711.8,1607.8 L712.8,1606.7 L713.8,1607.2 L714.8,1607.3 L715.8,1606.1 L716.8,1605.5 L717.8,1605.8 L718.8,1605.6 L719.8,1605.2 L720.8,1603.7 L721.8,1603.6 L722.8,1603.5 L723.8,1601.7 L724.8,1600.9 L725.8,1598.4 L726.8,1596.1 L727.8,1596.7 L728.8,1597.6 L729.8,1597.5 L730.8,1597.6 L731.8,1599.0 L732.8,1599.4 L733.8,1597.8 L734.8,1596.9 L735.8,1595.4 L736.8,1593.8 L737.8,1592.2 L738.8,1589.8 L739.8,1588.8 L740.8,1587.7 L741.8,1586.4 L742.8,1586.0 L743.8,1584.3 L744.8,1582.2 L745.8,1581.4 L746.8,1581.1 L747.8,1580.1 L748.8,1579.1 L749.8,1578.4 L750.8,1577.9 L751.8,1577.7 L752.8,1576.8 L753.8,1575.8 L754.8,1575.7 L755.8,1575.2 L756.8,1574.8 L757.8,1574.9 L758.8,1574.4 L759.8,1573.3 L760.8,1572.4 L761.8,1572.8 L762.8,1573.0 L763.8,1571.0 L764.8,1569.6 L765.8,1570.3 L766.8,1570.7 L767.8,1569.3 L768.8,1568.5 L769.8,1567.1 L770.8,1566.0 L771.8,1566.3 L772.8,1564.9 L773.8,1563.5 L774.8,1564.1 L775.8,1564.3 L776.8,1563.0 L777.8,1562.0 L778.8,1562.3 L779.8,1561.4 L780.8,1559.4 L781.8,1558.9 L782.8,1558.7 L783.8,1558.6 L784.8,1558.2" fill="none" stroke="#bfb92f" stroke-width="4.2" stroke-linejoin="round" stroke-linecap="round"/>
<path d="M99.8,1815.3 L100.8,1814.3 L101.8,1813.7 L102.8,1814.8 L103.8,1814.7 L104.8,1815.2 L105.8,1814.8 L106.8,1815.1 L107.8,1816.0 L108.8,1818.0 L109.8,1819.0 L110.8,1818.0 L111.8,1818.5 L112.8,1819.0 L113.8,1819.4 L114.8,1820.2 L115.8,1821.5 L116.8,1822.1 L117.8,1822.7 L118.8,1823.1 L119.8,1823.0 L120.8,1824.1 L121.8,1824.7 L122.8,1824.1 L123.8,1824.0 L124.8,1824.8 L125.8,1826.0 L126.8,1825.8 L127.8,1825.1 L128.8,1825.9 L129.8,1825.8 L130.8,1825.5 L131.8,1826.5 L132.8,1827.1 L133.8,1826.9 L134.8,1827.2 L135.8,1826.1 L136.8,1826.4 L137.8,1827.3 L138.8,1826.2 L139.8,1826.8 L140.8,1827.9 L141.8,1827.6 L142.8,1826.6 L143.8,1826.6 L144.8,1826.8 L145.8,1827.1 L146.8,1827.0 L147.8,1826.1 L148.8,1825.9 L149.8,1825.3 L150.8,1824.0 L151.8,1824.1 L152.8,1824.5 L153.8,1823.9 L154.8,1823.0 L155.8,1822.9 L156.8,1821.9 L157.8,1821.9 L158.8,1823.0 L159.8,1821.7 L160.8,1821.2 L161.8,1821.3 L162.8,1821.3 L163.8,1820.6 L164.8,1819.6 L165.8,1820.6 L166.8,1821.2 L167.8,1819.6 L168.8,1818.6 L169.8,1819.4 L170.8,1819.0 L171.8,1819.3 L172.8,1818.7 L173.8,1817.9 L174.8,1817.7 L175.8,1818.0 L176.8,1818.4 L177.8,1817.5 L178.8,1816.8 L179.8,1817.8 L180.8,1819.0 L181.8,1818.8 L182.8,1819.2 L183.8,1819.3 L184.8,1818.9 L185.8,1818.7 L186.8,1819.1 L187.8,1820.5 L188.8,1820.7 L189.8,1820.5 L190.8,1822.2 L191.8,1824.1 L192.8,1826.3 L193.8,1827.5 L194.8,1828.2 L195.8,1830.3 L196.8,1833.2 L197.8,1835.3 L198.8,1836.6 L199.8,1837.6 L200.8,1838.8 L201.8,1839.5 L202.8,1839.7 L203.8,1839.3 L204.8,1838.7 L205.8,1838.7 L206.8,1838.5 L207.8,1838.3 L208.8,1838.9 L209.8,1839.2 L210.8,1838.7 L211.8,1837.1 L212.8,1836.6 L213.8,1837.7 L214.8,1838.7 L215.8,1838.7 L216.8,1839.8 L217.8,1842.2 L218.8,1842.1 L219.8,1842.1 L220.8,1843.2 L221.8,1844.6 L222.8,1846.1 L223.8,1848.0 L224.8,1848.7 L225.8,1849.2 L226.8,1850.5 L227.8,1852.0 L228.8,1853.4 L229.8,1854.3 L230.8,1854.4 L231.8,1854.6 L232.8,1855.4 L233.8,1856.8 L234.8,1858.0 L235.8,1857.6 L236.8,1857.5 L237.8,1858.2 L238.8,1858.5 L239.8,1858.4 L240.8,1859.5 L241.8,1861.8 L242.8,1862.6 L243.8,1862.8 L244.8,1864.3 L245.8,1865.9 L246.8,1868.6 L247.8,1871.4 L248.8,1872.8 L249.8,1874.2 L250.8,1875.9 L251.8,1877.5 L252.8,1878.5 L253.8,1879.8 L254.8,1882.2 L255.8,1883.6 L256.8,1884.8 L257.8,1886.2 L258.8,1887.6 L259.8,1889.6 L260.8,1890.7 L261.8,1891.2 L262.8,1892.6 L263.8,1893.7 L264.8,1894.8 L265.8,1894.2 L266.8,1894.4 L267.8,1895.9 L268.8,1896.3 L269.8,1897.7 L270.8,1899.2 L271.8,1900.4 L272.8,1901.3 L273.8,1903.0 L274.8,1904.2 L275.8,1905.0 L276.8,1907.0 L277.8,1908.3 L278.8,1910.4 L279.8,1912.6 L280.8,1914.0 L281.8,1914.8 L282.8,1914.9 L283.8,1916.3 L284.8,1918.0 L285.8,1918.9 L286.8,1919.9 L287.8,1921.4 L288.8,1923.1 L289.8,1924.0 L290.8,1924.9 L291.8,1926.1 L292.8,1926.3 L293.8,1927.5 L294.8,1928.7 L295.8,1930.4 L296.8,1932.6 L297.8,1933.9 L298.8,1934.8 L299.8,1936.6 L300.8,1937.4 L301.8,1937.5 L302.8,1938.0 L303.8,1937.7 L304.8,1938.8 L305.8,1939.3 L306.8,1939.8 L307.8,1941.1 L308.8,1941.7 L309.8,1942.1 L310.8,1941.5 L311.8,1942.0 L312.8,1942.3 L313.8,1942.1 L314.8,1942.3 L315.8,1942.4 L316.8,1942.3 L317.8,1941.9 L318.8,1941.9 L319.8,1941.4 L320.8,1941.4 L321.8,1941.8 L322.8,1942.4 L323.8,1943.3 L324.8,1941.7 L325.8,1940.7 L326.8,1941.0 L327.8,1939.9 L328.8,1939.5 L329.8,1939.1 L330.8,1937.3 L331.8,1936.7 L332.8,1936.6 L333.8,1935.7 L334.8,1934.1 L335.8,1933.1 L336.8,1932.7 L337.8,1930.6 L338.8,1928.7 L339.8,1928.0 L340.8,1927.0 L341.8,1926.9 L342.8,1926.4 L343.8,1924.5 L344.8,1923.4 L345.8,1923.3 L346.8,1924.1 L347.8,1923.5 L348.8,1922.0 L349.8,1921.7 L350.8,1920.9 L351.8,1920.8 L352.8,1919.3 L353.8,1917.3 L354.8,1916.3 L355.8,1915.1 L356.8,1913.8 L357.8,1914.2 L358.8,1914.6 L359.8,1913.9 L360.8,1913.5 L361.8,1913.2 L362.8,1913.8 L363.8,1914.6 L364.8,1914.7 L365.8,1914.8 L366.8,1914.8 L367.8,1914.5 L368.8,1914.9 L369.8,1915.6 L370.8,1915.8 L371.8,1916.4 L372.8,1917.6 L373.8,1918.0 L374.8,1917.7 L375.8,1918.3 L376.8,1919.5 L377.8,1919.0 L378.8,1917.9 L379.8,1917.5 L380.8,1917.6 L381.8,1916.3 L382.8,1915.3 L383.8,1916.2 L384.8,1915.3 L385.8,1915.3 L386.8,1915.9 L387.8,1915.1 L388.8,1915.1 L389.8,1914.8 L390.8,1914.6 L391.8,1916.4 L392.8,1916.5 L393.8,1916.7 L394.8,1917.4 L395.8,1917.3 L396.8,1917.6 L397.8,1916.5 L398.8,1916.7 L399.8,1918.2 L400.8,1918.5 L401.8,1918.4 L402.8,1919.7 L403.8,1920.6 L404.8,1920.2 L405.8,1920.7 L406.8,1922.4 L407.8,1922.9 L408.8,1923.3 L409.8,1924.5 L410.8,1924.3 L411.8,1923.4 L412.8,1923.0 L413.8,1923.7 L414.8,1924.9 L415.8,1925.3 L416.8,1925.3 L417.8,1925.3 L418.8,1925.4 L419.8,1925.7 L420.8,1925.7 L421.8,1925.7 L422.8,1925.5 L423.8,1926.4 L424.8,1927.2 L425.8,1927.7 L426.8,1929.3 L427.8,1930.7 L428.8,1932.7 L429.8,1934.3 L430.8,1934.2 L431.8,1935.9 L432.8,1938.3 L433.8,1939.8 L434.8,1942.4 L435.8,1945.7 L436.8,1947.4 L437.8,1950.9 L438.8,1952.4 L439.8,1940.2 L440.8,1919.7 L441.8,1899.4 L442.8,1879.5 L443.8,1873.2 L444.8,1873.7 L445.8,1877.0 L446.8,1895.0 L447.8,1918.8 L448.8,1927.9 L449.8,1934.8 L450.8,1939.3 L451.8,1943.3 L452.8,1947.7 L453.8,1952.1 L454.8,1955.1 L455.8,1956.8 L456.8,1960.0 L457.8,1962.6 L458.8,1964.3 L459.8,1965.9 L460.8,1967.5 L461.8,1968.2 L462.8,1968.5 L463.8,1968.4 L464.8,1968.8 L465.8,1971.4 L466.8,1972.2 L467.8,1972.0 L468.8,1972.6 L469.8,1974.1 L470.8,1975.6 L471.8,1975.8 L472.8,1976.8 L473.8,1978.3 L474.8,1978.9 L475.8,1979.1 L476.8,1980.1 L477.8,1981.1 L478.8,1980.7 L479.8,1980.7 L480.8,1981.1 L481.8,1982.0 L482.8,1982.2 L483.8,1982.4 L484.8,1982.7 L485.8,1982.9 L486.8,1983.0 L487.8,1982.3 L488.8,1981.1 L489.8,1981.2 L490.8,1982.4 L491.8,1982.3 L492.8,1982.2 L493.8,1981.8 L494.8,1981.4 L495.8,1981.1 L496.8,1981.8 L497.8,1982.3 L498.8,1981.3 L499.8,1980.4 L500.8,1980.2 L501.8,1981.1 L502.8,1981.0 L503.8,1979.6 L504.8,1979.6 L505.8,1980.2 L506.8,1979.6 L507.8,1978.8 L508.8,1978.3 L509.8,1977.6 L510.8,1976.7 L511.8,1975.5 L512.8,1975.2 L513.8,1975.0 L514.8,1974.8 L515.8,1973.3 L516.8,1972.5 L517.8,1973.8 L518.8,1973.3 L519.8,1973.0 L520.8,1973.5 L521.8,1973.6 L522.8,1973.0 L523.8,1972.7 L524.8,1973.4 L525.8,1974.0 L526.8,1973.6 L527.8,1972.9 L528.8,1972.5 L529.8,1972.3 L530.8,1970.8 L531.8,1968.7 L532.8,1968.1 L533.8,1966.9 L534.8,1965.2 L535.8,1964.4 L536.8,1963.6 L537.8,1961.8 L538.8,1960.6 L539.8,1958.9 L540.8,1957.2 L541.8,1955.6 L542.8,1953.1 L543.8,1952.4 L544.8,1951.3 L545.8,1949.2 L546.8,1948.0 L547.8,1947.5 L548.8,1946.9 L549.8,1945.9 L550.8,1945.7 L551.8,1944.6 L552.8,1943.1 L553.8,1942.2 L554.8,1941.5 L555.8,1940.4 L556.8,1938.5 L557.8,1935.9 L558.8,1933.2 L559.8,1931.8 L560.8,1930.1 L561.8,1928.5 L562.8,1927.6 L563.8,1925.4 L564.8,1923.7 L565.8,1922.6 L566.8,1922.3 L567.8,1922.4 L568.8,1920.7 L569.8,1918.7 L570.8,1917.0 L571.8,1916.4 L572.8,1916.8 L573.8,1915.6 L574.8,1915.4 L575.8,1914.7 L576.8,1913.9 L577.8,1914.5 L578.8,1914.0 L579.8,1914.6 L580.8,1916.2 L581.8,1915.9 L582.8,1915.7 L583.8,1917.4 L584.8,1918.9 L585.8,1918.8 L586.8,1919.5 L587.8,1920.8 L588.8,1921.8 L589.8,1923.1 L590.8,1924.2 L591.8,1925.4 L592.8,1926.5 L593.8,1926.5 L594.8,1926.8 L595.8,1927.4 L596.8,1927.4 L597.8,1926.5 L598.8,1926.7 L599.8,1927.5 L600.8,1928.0 L601.8,1928.3 L602.8,1928.1 L603.8,1928.6 L604.8,1929.6 L605.8,1930.1 L606.8,1929.9 L607.8,1930.7 L608.8,1931.4 L609.8,1932.3 L610.8,1933.4 L611.8,1934.4 L612.8,1936.3 L613.8,1937.3 L614.8,1938.0 L615.8,1939.8 L616.8,1941.9 L617.8,1943.2 L618.8,1944.2 L619.8,1946.2 L620.8,1948.0 L621.8,1949.0 L622.8,1949.3 L623.8,1949.6 L624.8,1950.7 L625.8,1952.3 L626.8,1952.8 L627.8,1952.9 L628.8,1953.7 L629.8,1954.0 L630.8,1954.5 L631.8,1955.7 L632.8,1956.7 L633.8,1957.2 L634.8,1956.7 L635.8,1957.2 L636.8,1958.2 L637.8,1957.1 L638.8,1956.0 L639.8,1955.6 L640.8,1955.1 L641.8,1953.7 L642.8,1953.4 L643.8,1953.3 L644.8,1952.7 L645.8,1952.5 L646.8,1951.3 L647.8,1950.7 L648.8,1950.8 L649.8,1949.9 L650.8,1948.6 L651.8,1947.9 L652.8,1946.3 L653.8,1946.0 L654.8,1945.7 L655.8,1943.8 L656.8,1942.6 L657.8,1940.7 L658.8,1938.6 L659.8,1938.4 L660.8,1937.4 L661.8,1934.2 L662.8,1930.9 L663.8,1930.1 L664.8,1930.6 L665.8,1929.4 L666.8,1927.4 L667.8,1926.5 L668.8,1924.7 L669.8,1923.1 L670.8,1922.4 L671.8,1921.2 L672.8,1919.7 L673.8,1917.8 L674.8,1916.5 L675.8,1915.3 L676.8,1914.3 L677.8,1914.3 L678.8,1912.1 L679.8,1908.8 L680.8,1907.8 L681.8,1908.0 L682.8,1907.7 L683.8,1907.2 L684.8,1905.6 L685.8,1904.0 L686.8,1904.2 L687.8,1903.4 L688.8,1902.6 L689.8,1902.3 L690.8,1901.4 L691.8,1901.0 L692.8,1900.0 L693.8,1899.1 L694.8,1897.7 L695.8,1897.3 L696.8,1897.8 L697.8,1897.9 L698.8,1898.7 L699.8,1898.7 L700.8,1898.1 L701.8,1898.2 L702.8,1898.8 L703.8,1899.8 L704.8,1900.0 L705.8,1900.7 L706.8,1901.9 L707.8,1902.1 L708.8,1902.3 L709.8,1903.6 L710.8,1905.5 L711.8,1905.6 L712.8,1906.9 L713.8,1909.4 L714.8,1910.0 L715.8,1910.5 L716.8,1912.4 L717.8,1913.8 L718.8,1913.4 L719.8,1913.8 L720.8,1915.2 L721.8,1916.0 L722.8,1915.9 L723.8,1917.1 L724.8,1918.7 L725.8,1919.2 L726.8,1920.1 L727.8,1921.2 L728.8,1921.8 L729.8,1921.8 L730.8,1922.9 L731.8,1924.6 L732.8,1924.9 L733.8,1925.7 L734.8,1926.6 L735.8,1926.5 L736.8,1927.8 L737.8,1928.4 L738.8,1929.0 L739.8,1929.9 L740.8,1930.5 L741.8,1931.3 L742.8,1931.9 L743.8,1934.3 L744.8,1936.1 L745.8,1936.9 L746.8,1937.7 L747.8,1938.7 L748.8,1938.8 L749.8,1938.2 L750.8,1938.6 L751.8,1938.5 L752.8,1937.9 L753.8,1937.9 L754.8,1937.8 L755.8,1937.3 L756.8,1937.9 L757.8,1938.2 L758.8,1938.0 L759.8,1937.9 L760.8,1937.7 L761.8,1937.8 L762.8,1938.8 L763.8,1939.4 L764.8,1940.2 L765.8,1942.2 L766.8,1943.6 L767.8,1943.8 L768.8,1942.6 L769.8,1942.3 L770.8,1942.3 L771.8,1942.3 L772.8,1942.5 L773.8,1942.4 L774.8,1943.4 L775.8,1943.2 L776.8,1942.9 L777.8,1942.2 L778.8,1940.5 L779.8,1940.4 L780.8,1940.6 L781.8,1938.9 L782.8,1937.2 L783.8,1935.8 L784.8,1934.6" fill="none" stroke="#c4202b" stroke-width="4.2" stroke-linejoin="round" stroke-linecap="round"/>
</g>
<rect x="99.8" y="1284.7" width="685.8" height="741.8" fill="none" stroke="#231f20" stroke-width="2.6"/>
<line x1="99.8" y1="1532.0" x2="785.6" y2="1532.0" stroke="#231f20" stroke-width="2.6"/>
<line x1="99.8" y1="1779.3" x2="785.6" y2="1779.3" stroke="#231f20" stroke-width="2.6"/>
<path d="M168.4,1284.7v7 M168.4,1532.0v-7 M168.4,1532.0v7 M168.4,1779.3v-7 M168.4,1779.3v7 M168.4,2026.5v-7 M237.0,1284.7v7 M237.0,1532.0v-7 M237.0,1532.0v7 M237.0,1779.3v-7 M237.0,1779.3v7 M237.0,2026.5v-7 M305.5,1284.7v7 M305.5,1532.0v-7 M305.5,1532.0v7 M305.5,1779.3v-7 M305.5,1779.3v7 M305.5,2026.5v-7 M374.1,1284.7v7 M374.1,1532.0v-7 M374.1,1532.0v7 M374.1,1779.3v-7 M374.1,1779.3v7 M374.1,2026.5v-7 M442.7,1284.7v7 M442.7,1532.0v-7 M442.7,1532.0v7 M442.7,1779.3v-7 M442.7,1779.3v7 M442.7,2026.5v-7 M511.3,1284.7v7 M511.3,1532.0v-7 M511.3,1532.0v7 M511.3,1779.3v-7 M511.3,1779.3v7 M511.3,2026.5v-7 M579.9,1284.7v7 M579.9,1532.0v-7 M579.9,1532.0v7 M579.9,1779.3v-7 M579.9,1779.3v7 M579.9,2026.5v-7 M648.4,1284.7v7 M648.4,1532.0v-7 M648.4,1532.0v7 M648.4,1779.3v-7 M648.4,1779.3v7 M648.4,2026.5v-7 M717.0,1284.7v7 M717.0,1532.0v-7 M717.0,1532.0v7 M717.0,1779.3v-7 M717.0,1779.3v7 M717.0,2026.5v-7 M99.8,1470.2h7 M785.6,1470.2h-7 M99.8,1408.4h7 M785.6,1408.4h-7 M99.8,1346.6h7 M785.6,1346.6h-7 M99.8,1717.5h7 M785.6,1717.5h-7 M99.8,1655.7h7 M785.6,1655.7h-7 M99.8,1593.9h7 M785.6,1593.9h-7 M99.8,1964.7h7 M785.6,1964.7h-7 M99.8,1902.9h7 M785.6,1902.9h-7 M99.8,1841.1h7 M785.6,1841.1h-7" stroke="#231f20" stroke-width="2.4" fill="none"/>
<text x="87" y="1539.8" font-size="39.5" text-anchor="end" fill="#231f20" >0</text>
<text x="87" y="1478.0" font-size="39.5" text-anchor="end" fill="#231f20" >1</text>
<text x="87" y="1416.2" font-size="39.5" text-anchor="end" fill="#231f20" >2</text>
<text x="87" y="1354.4" font-size="39.5" text-anchor="end" fill="#231f20" >3</text>
<text x="87" y="1787.1" font-size="39.5" text-anchor="end" fill="#231f20" >0</text>
<text x="87" y="1725.3" font-size="39.5" text-anchor="end" fill="#231f20" >1</text>
<text x="87" y="1663.5" font-size="39.5" text-anchor="end" fill="#231f20" >2</text>
<text x="87" y="1601.7" font-size="39.5" text-anchor="end" fill="#231f20" >3</text>
<text x="87" y="2034.3" font-size="39.5" text-anchor="end" fill="#231f20" >0</text>
<text x="87" y="1972.5" font-size="39.5" text-anchor="end" fill="#231f20" >1</text>
<text x="87" y="1910.7" font-size="39.5" text-anchor="end" fill="#231f20" >2</text>
<text x="87" y="1848.9" font-size="39.5" text-anchor="end" fill="#231f20" >3</text>
<text x="92.0" y="2068.5" font-size="38.5" text-anchor="middle" fill="#231f20" >-0.5</text>
<text x="160.6" y="2068.5" font-size="38.5" text-anchor="middle" fill="#231f20" >-0.4</text>
<text x="229.2" y="2068.5" font-size="38.5" text-anchor="middle" fill="#231f20" >-0.3</text>
<text x="297.7" y="2068.5" font-size="38.5" text-anchor="middle" fill="#231f20" >-0.2</text>
<text x="366.3" y="2068.5" font-size="38.5" text-anchor="middle" fill="#231f20" >-0.1</text>
<text x="434.9" y="2068.5" font-size="38.5" text-anchor="middle" fill="#231f20" >0</text>
<text x="503.5" y="2068.5" font-size="38.5" text-anchor="middle" fill="#231f20" >0.1</text>
<text x="572.1" y="2068.5" font-size="38.5" text-anchor="middle" fill="#231f20" >0.2</text>
<text x="640.6" y="2068.5" font-size="38.5" text-anchor="middle" fill="#231f20" >0.3</text>
<text x="709.2" y="2068.5" font-size="38.5" text-anchor="middle" fill="#231f20" >0.4</text>
<text x="777.8" y="2068.5" font-size="38.5" text-anchor="middle" fill="#231f20" >0.5</text>
<text x="442.5" y="2117" font-size="39.5" text-anchor="middle" fill="#231f20" >Bias voltage (V)</text>
<text transform="translate(38.5,1658) rotate(-90)" x="0" y="0" font-size="38.5" text-anchor="middle" fill="#231f20">dI/dV (normalized)</text>
<text x="238" y="1335" font-size="38.5" fill="#231f20">1T-TaS<tspan font-size="25" dy="11.5">2</tspan><tspan dy="-11.5"> on HOPG</tspan></text>
<text x="239" y="1582.5" font-size="38.5" fill="#231f20">1H-TaS<tspan font-size="25" dy="11.5">2</tspan><tspan dy="-11.5"> on HOPG</tspan></text>
<text x="239" y="1831" font-size="38.5" fill="#231f20">1T-TaS<tspan font-size="25" dy="11.5">2</tspan><tspan dy="-11.5"> on 1H-TaS</tspan><tspan font-size="25" dy="11.5">2</tspan></text>
<path d="M953.0,760.0 L953.7,761.4 L954.4,762.7 L955.1,761.5 L955.8,760.6 L956.5,760.9 L957.2,761.9 L957.9,762.6 L958.6,763.1 L959.3,762.0 L960.0,762.9 L960.7,764.6 L961.4,764.2 L962.1,764.5 L962.8,763.9 L963.5,764.8 L964.2,766.1 L964.9,765.9 L965.6,765.5 L966.3,766.6 L967.0,766.4 L967.7,765.0 L968.4,766.3 L969.1,767.2 L969.8,765.6 L970.5,765.7 L971.2,766.9 L971.9,766.7 L972.6,765.8 L973.3,766.6 L974.0,768.2 L974.7,767.7 L975.4,765.9 L976.1,766.0 L976.8,766.7 L977.5,765.7 L978.2,765.1 L978.9,765.8 L979.6,764.9 L980.3,763.3 L981.0,763.6 L981.7,764.5 L982.4,765.2 L983.1,764.1 L983.8,762.8 L984.5,763.3 L985.2,762.7 L985.9,763.7 L986.6,765.7 L987.3,765.2 L988.0,766.1 L988.7,767.5 L989.4,767.1 L990.1,766.8 L990.8,767.2 L991.5,765.9 L992.2,765.7 L992.9,767.4 L993.6,765.6 L994.3,765.4 L995.0,766.7 L995.7,767.2 L996.4,767.1 L997.1,766.5 L997.8,767.2 L998.5,766.6 L999.2,766.9 L999.9,767.7 L1000.6,767.7 L1001.3,767.5 L1002.0,768.1 L1002.7,769.1 L1003.4,768.2 L1004.1,768.3 L1004.8,769.5 L1005.5,770.4 L1006.2,768.2 L1006.9,767.4 L1007.6,768.9 L1008.3,768.0 L1009.0,766.6 L1009.7,767.5 L1010.4,767.1 L1011.1,766.3 L1011.8,768.1 L1012.5,766.1 L1013.2,764.7 L1013.9,764.7 L1014.6,765.0 L1015.3,767.2 L1016.0,768.5 L1016.7,765.8 L1017.4,763.6 L1018.1,765.5 L1018.8,767.1 L1019.5,766.7 L1020.2,764.7 L1020.9,764.3 L1021.6,764.5 L1022.3,763.7 L1023.0,762.6 L1023.7,762.5 L1024.4,762.7 L1025.1,761.6 L1025.8,760.6 L1026.5,759.0 L1027.2,758.1 L1027.9,759.5 L1028.6,759.2 L1029.3,756.6 L1030.0,757.4 L1030.7,758.7 L1031.4,759.2 L1032.1,758.7 L1032.8,756.7 L1033.5,755.5 L1034.2,756.9 L1034.9,760.1 L1035.6,758.4 L1036.3,755.8 L1037.0,757.0 L1037.7,756.8 L1038.4,756.1 L1039.1,756.5 L1039.8,756.9 L1040.5,758.0 L1041.2,757.9 L1041.9,757.8 L1042.6,757.3 L1043.3,756.7 L1044.0,755.0 L1044.7,753.2 L1045.4,755.1 L1046.1,755.3 L1046.8,754.6 L1047.5,755.0 L1048.2,755.1 L1048.9,754.9 L1049.6,754.2 L1050.3,753.1 L1051.0,751.5 L1051.7,750.9 L1052.4,751.0 L1053.1,750.8 L1053.8,750.9 L1054.5,752.0 L1055.2,752.9 L1055.9,753.0 L1056.6,751.6 L1057.3,752.2 L1058.0,754.2 L1058.7,755.5 L1059.4,756.1 L1060.1,755.0 L1060.8,754.2 L1061.5,756.6 L1062.2,758.1 L1062.9,758.2 L1063.6,759.6 L1064.3,757.8 L1065.0,756.7 L1065.7,757.9 L1066.4,758.3 L1067.1,758.6 L1067.8,758.5 L1068.5,758.4 L1069.2,757.3 L1069.9,757.2 L1070.6,758.0 L1071.3,758.4 L1072.0,758.8 L1072.7,759.4 L1073.4,760.6 L1074.1,760.5 L1074.8,760.2 L1075.5,760.1 L1076.2,759.6 L1076.9,759.5 L1077.6,759.5 L1078.3,759.7 L1079.0,758.6 L1079.7,756.2 L1080.4,752.3 L1081.1,750.1 L1081.8,749.2 L1082.5,747.8 L1083.2,748.4 L1083.9,748.8 L1084.6,749.5 L1085.3,749.9 L1086.0,749.2 L1086.7,749.4 L1087.4,751.6 L1088.1,752.7 L1088.8,750.9 L1089.5,751.0 L1090.2,750.8 L1090.9,752.2 L1091.6,752.1 L1092.3,751.0 L1093.0,752.6 L1093.7,750.9 L1094.4,750.6 L1095.1,752.4 L1095.8,752.4 L1096.5,751.6 L1097.2,751.8 L1097.9,751.6 L1098.6,750.9 L1099.3,750.4 L1100.0,750.4 L1100.7,749.4 L1101.4,748.9 L1102.1,748.5 L1102.8,746.2 L1103.5,746.1 L1104.2,747.6 L1104.9,747.5 L1105.6,745.4 L1106.3,745.2 L1107.0,745.3 L1107.7,744.7 L1108.4,745.2 L1109.1,743.6 L1109.8,743.9 L1110.5,745.0 L1111.2,744.5 L1111.9,744.2 L1112.6,743.6 L1113.3,744.0 L1114.0,745.8 L1114.7,747.8 L1115.4,747.0 L1116.1,746.3 L1116.8,745.9 L1117.5,743.2 L1118.2,743.3 L1118.9,744.9 L1119.6,744.2 L1120.3,743.8 L1121.0,744.3 L1121.7,743.0 L1122.4,741.0 L1123.1,741.1 L1123.8,741.7 L1124.5,741.1 L1125.2,741.6 L1125.9,742.8 L1126.6,741.1 L1127.3,739.8 L1128.0,740.3 L1128.7,739.8 L1129.4,739.4 L1130.1,737.4 L1130.8,736.9 L1131.5,736.4 L1132.2,735.9 L1132.9,735.3 L1133.6,734.7 L1134.3,734.1 L1135.0,733.5 L1135.7,732.9 L1136.4,732.3 L1137.1,731.7 L1137.8,731.1 L1138.5,730.5 L1139.2,729.9 L1139.9,729.4 L1140.6,728.9 L1141.3,728.4 L1142.0,728.0 L1142.7,727.6 L1143.4,727.3 L1144.1,727.0 L1144.8,726.8 L1145.5,726.5 L1146.2,726.3 L1146.9,726.1 L1147.6,725.9 L1148.3,725.6 L1149.0,725.4 L1149.7,725.1 L1150.4,724.8 L1151.1,724.5 L1151.8,724.1 L1152.5,723.7 L1153.2,723.2 L1153.9,722.6 L1154.6,722.0 L1155.3,721.4 L1156.0,720.6 L1156.7,719.9 L1157.4,719.1 L1158.1,718.2 L1158.8,717.4 L1159.5,716.5 L1160.2,715.6 L1160.9,714.6 L1161.6,713.7 L1162.3,712.8 L1163.0,711.8 L1163.7,710.9 L1164.4,710.0 L1165.1,709.1 L1165.8,708.2 L1166.5,707.4 L1167.2,706.5 L1167.9,705.7 L1168.6,704.8 L1169.3,703.9 L1170.0,703.0 L1170.7,702.1 L1171.4,701.2 L1172.1,700.2 L1172.8,699.3 L1173.5,698.4 L1174.2,697.5 L1174.9,696.6 L1175.6,695.6 L1176.3,694.7 L1177.0,693.8 L1177.7,692.9 L1178.4,692.0 L1179.1,691.1 L1179.8,690.2 L1180.5,689.4 L1181.2,688.4 L1181.9,687.5 L1182.6,686.5 L1183.3,685.5 L1184.0,684.5 L1184.7,683.5 L1185.4,682.5 L1186.1,681.6 L1186.8,680.8 L1187.5,680.0 L1188.2,679.3 L1188.9,678.7 L1189.6,678.2 L1190.3,677.9 L1191.0,677.5 L1191.7,677.2 L1192.4,676.9 L1193.1,676.6 L1193.8,676.4 L1194.5,676.2 L1195.2,676.1 L1195.9,676.0 L1196.6,676.0 L1197.3,676.1 L1198.0,676.3 L1198.7,676.5 L1199.4,676.7 L1200.1,677.0 L1200.8,677.4 L1201.5,677.7 L1202.2,678.1 L1202.9,678.7 L1203.6,679.5 L1204.3,680.5 L1205.0,681.6 L1205.7,682.9 L1206.4,684.3 L1207.1,685.7 L1207.8,687.2 L1208.5,688.8 L1209.2,690.3 L1209.9,691.8 L1210.6,693.3 L1211.3,694.9 L1212.0,696.5 L1212.7,698.2 L1213.4,700.0 L1214.1,701.9 L1214.8,703.8 L1215.5,705.7 L1216.2,707.6 L1216.9,709.5 L1217.6,711.5 L1218.3,713.4 L1219.0,715.3 L1219.7,717.2 L1220.4,719.1 L1221.1,721.1 L1221.8,723.3 L1222.5,725.4 L1223.2,727.5 L1223.9,729.5 L1224.6,731.3 L1225.3,732.8 L1226.0,734.0 L1226.7,735.0 L1227.4,735.9 L1228.1,736.8 L1228.8,737.7 L1229.5,738.4 L1230.2,739.0 L1230.9,739.4 L1231.6,739.7 L1232.3,739.7 L1233.0,739.6 L1233.7,739.4 L1234.4,739.2 L1235.1,738.8 L1235.8,738.5 L1236.5,738.1 L1237.2,737.6 L1237.9,737.2 L1238.6,736.8 L1239.3,736.4 L1240.0,736.0 L1240.7,735.6 L1241.4,735.3 L1242.1,734.9 L1242.8,734.6 L1243.5,734.2 L1244.2,733.8 L1244.9,733.4 L1245.6,733.0 L1246.3,732.7 L1247.0,732.3 L1247.7,731.9 L1248.4,731.5 L1249.1,731.1 L1249.8,730.7 L1250.5,730.3 L1251.2,729.9 L1251.9,729.6 L1252.6,729.1 L1253.3,711.5 L1254.0,668.2 L1254.7,630.7 L1255.4,594.4 L1256.1,566.3 L1256.8,562.8 L1257.5,578.1 L1258.2,600.7 L1258.9,623.6 L1259.6,652.4 L1260.3,678.5 L1261.0,694.3 L1261.7,706.7 L1262.4,717.0 L1263.1,725.5 L1263.8,732.2 L1264.5,737.5 L1265.2,742.4 L1265.9,746.8 L1266.6,750.8 L1267.3,754.5 L1268.0,757.8 L1268.7,760.8 L1269.4,763.5 L1270.1,765.9 L1270.8,768.0 L1271.5,769.9 L1272.2,771.7 L1272.9,773.4 L1273.6,774.9 L1274.3,776.4 L1275.0,777.8 L1275.7,779.1 L1276.4,780.3 L1277.1,781.4 L1277.8,782.5 L1278.5,783.4 L1279.2,784.3 L1279.9,785.2 L1280.6,785.9 L1281.3,786.6 L1282.0,787.3 L1282.7,788.0 L1283.4,788.7 L1284.1,789.3 L1284.8,789.9 L1285.5,790.3 L1286.2,790.7 L1286.9,790.9 L1287.6,791.0 L1288.3,791.0 L1289.0,790.9 L1289.7,790.9 L1290.4,790.8 L1291.1,790.7 L1291.8,790.5 L1292.5,790.4 L1293.2,790.2 L1293.9,789.9 L1294.6,789.7 L1295.3,789.4 L1296.0,789.1 L1296.7,788.8 L1297.4,788.5 L1298.1,788.1 L1298.8,787.7 L1299.5,787.4 L1300.2,787.0 L1300.9,786.6 L1301.6,786.2 L1302.3,785.8 L1303.0,785.4 L1303.7,784.9 L1304.4,784.3 L1305.1,783.7 L1305.8,783.1 L1306.5,782.5 L1307.2,781.8 L1307.9,781.2 L1308.6,780.6 L1309.3,780.1 L1310.0,779.5 L1310.7,779.0 L1311.4,778.5 L1312.1,777.9 L1312.8,777.4 L1313.5,776.9 L1314.2,776.4 L1314.9,775.8 L1315.6,775.3 L1316.3,774.8 L1317.0,774.3 L1317.7,773.7 L1318.4,773.2 L1319.1,772.7 L1319.8,772.1 L1320.5,771.6 L1321.2,771.1 L1321.9,770.5 L1322.6,770.0 L1323.3,769.5 L1324.0,769.0 L1324.7,768.5 L1325.4,768.0 L1326.1,767.5 L1326.8,767.0 L1327.5,766.6 L1328.2,766.1 L1328.9,765.7 L1329.6,765.3 L1330.3,764.8 L1331.0,764.4 L1331.7,764.1 L1332.4,763.7 L1333.1,763.4 L1333.8,763.0 L1334.5,762.7 L1335.2,762.3 L1335.9,762.0 L1336.6,761.7 L1337.3,761.4 L1338.0,761.1 L1338.7,760.7 L1339.4,760.4 L1340.1,760.1 L1340.8,759.8 L1341.5,759.6 L1342.2,759.3 L1342.9,759.0 L1343.6,758.7 L1344.3,758.5 L1345.0,758.2 L1345.7,758.0 L1346.4,757.8 L1347.1,757.5 L1347.8,757.3 L1348.5,757.1 L1349.2,756.9 L1349.9,756.8 L1350.6,756.6 L1351.3,756.4 L1352.0,756.3 L1352.7,756.2 L1353.4,756.0 L1354.1,755.9 L1354.8,755.7 L1355.5,755.6 L1356.2,755.5 L1356.9,755.4 L1357.6,755.3 L1358.3,755.2 L1359.0,755.1 L1359.7,755.0 L1360.4,755.0 L1361.1,754.9 L1361.8,754.9 L1362.5,754.9 L1363.2,755.0 L1363.9,755.1 L1364.6,755.3 L1365.3,755.5 L1366.0,755.7 L1366.7,756.0 L1367.4,756.3 L1368.1,756.7 L1368.8,757.1 L1369.5,757.5 L1370.2,757.9 L1370.9,758.4 L1371.6,758.9 L1372.3,759.4 L1373.0,759.9 L1373.7,760.4 L1374.4,761.0 L1375.1,761.5 L1375.8,762.3 L1376.5,763.2 L1377.2,764.2 L1377.9,765.4 L1378.6,766.7 L1379.3,768.1 L1380.0,769.5 L1380.7,771.0 L1381.4,772.6 L1382.1,774.1 L1382.8,775.7 L1383.5,777.2 L1384.2,778.7 L1384.9,780.1 L1385.6,781.5 L1386.3,782.7 L1387.0,783.9 L1387.7,784.9 L1388.4,785.8 L1389.1,786.8 L1389.8,787.7 L1390.5,788.6 L1391.2,789.5 L1391.9,790.3 L1392.6,791.2 L1393.3,792.0 L1394.0,792.8 L1394.7,793.6 L1395.4,794.4 L1396.1,795.2 L1396.8,795.9 L1397.5,796.7 L1398.2,797.4 L1398.9,798.1 L1399.6,798.8 L1400.3,799.5 L1401.0,800.2 L1401.7,800.9 L1402.4,801.6 L1403.1,802.3 L1403.8,803.0 L1404.5,803.7 L1405.2,804.4 L1405.9,805.0 L1406.6,805.7 L1407.3,806.3 L1408.0,806.8 L1408.7,807.4 L1409.4,808.0 L1410.1,809.3 L1410.8,809.5 L1411.5,808.4 L1412.2,808.0 L1412.9,810.1 L1413.6,811.8 L1414.3,811.3 L1415.0,812.3 L1415.7,812.8 L1416.4,813.4 L1417.1,815.3 L1417.8,815.1 L1418.5,814.6 L1419.2,816.0 L1419.9,816.7 L1420.6,817.5 L1421.3,818.2 L1422.0,819.0 L1422.7,820.6 L1423.4,821.2 L1424.1,821.9 L1424.8,823.5 L1425.5,824.4 L1426.2,825.6 L1426.9,827.6 L1427.6,829.4 L1428.3,830.3 L1429.0,832.0 L1429.7,833.5 L1430.4,833.2 L1431.1,834.8 L1431.8,836.7 L1432.5,836.5 L1433.2,835.8 L1433.9,836.3 L1434.6,836.8 L1435.3,836.9 L1436.0,838.2 L1436.7,838.8 L1437.4,838.4 L1438.1,838.7 L1438.8,838.8 L1439.5,839.2 L1440.2,839.9 L1440.9,839.5 L1441.6,839.4 L1442.3,840.9 L1443.0,841.3 L1443.7,840.4 L1444.4,841.4 L1445.1,841.8 L1445.8,840.8 L1446.5,841.5 L1447.2,842.0 L1447.9,842.1 L1448.6,843.3 L1449.3,844.3 L1450.0,844.7 L1450.7,845.4 L1451.4,846.5 L1452.1,848.3 L1452.8,849.3 L1453.5,849.5 L1454.2,851.7 L1454.9,852.7 L1455.6,853.3 L1456.3,854.9 L1457.0,854.8 L1457.7,854.1 L1458.4,854.8 L1459.1,856.1 L1459.8,856.7 L1460.5,856.8 L1461.2,857.2 L1461.9,858.1 L1462.6,857.4 L1463.3,857.7 L1464.0,858.5 L1464.7,857.9 L1465.4,857.9 L1466.1,859.2 L1466.8,860.1 L1467.5,858.7 L1468.2,858.5 L1468.9,859.5 L1469.6,859.7 L1470.3,859.8 L1471.0,859.5 L1471.7,860.4 L1472.4,861.0 L1473.1,860.8 L1473.8,861.3 L1474.5,861.5 L1475.2,862.5 L1475.9,863.4 L1476.6,863.2 L1477.3,863.0 L1478.0,863.5 L1478.7,864.8 L1479.4,865.4 L1480.1,865.5 L1480.8,865.8 L1481.5,866.0 L1482.2,866.7 L1482.9,866.4 L1483.6,867.5 L1484.3,868.4 L1485.0,867.9 L1485.7,869.4 L1486.4,870.2 L1487.1,870.1 L1487.8,870.2 L1488.5,870.0 L1489.2,870.9 L1489.9,872.6 L1490.6,872.7 L1491.3,873.4 L1492.0,873.9 L1492.7,873.6 L1493.4,875.1 L1494.1,876.1 L1494.8,876.9 L1495.5,877.3 L1496.2,877.3 L1496.9,877.5 L1497.6,878.2 L1498.3,879.2 L1499.0,879.8 L1499.7,881.0 L1500.4,882.0 L1501.1,881.5 L1501.8,883.4 L1502.5,884.4 L1503.2,883.1 L1503.9,884.3 L1504.6,885.6 L1505.3,884.8 L1506.0,883.8 L1506.7,884.0 L1507.4,885.3 L1508.1,885.8 L1508.8,885.0 L1509.5,885.3 L1510.2,886.3 L1510.9,885.8 L1511.6,885.2 L1512.3,885.3 L1513.0,886.6 L1513.7,888.1 L1514.4,887.7 L1515.1,887.0 L1515.8,887.0 L1516.5,886.3 L1517.2,886.3 L1517.9,886.9 L1518.6,886.4 L1519.3,886.9 L1520.0,887.6 L1520.7,888.4 L1521.4,889.1 L1522.1,889.2 L1522.8,888.7 L1523.5,889.1 L1524.2,889.7 L1524.9,890.1 L1525.6,890.0 L1526.3,888.4 L1527.0,888.8 L1527.7,891.1 L1528.4,891.7 L1529.1,890.8 L1529.8,891.1 L1530.5,891.5 L1531.2,891.3 L1531.9,890.9 L1532.6,890.7 L1533.3,891.0 L1534.0,890.6 L1534.7,890.0 L1535.4,890.3 L1536.1,891.2 L1536.8,891.4 L1537.5,891.1 L1538.2,890.9 L1538.9,891.8 L1539.6,891.6 L1540.3,890.8 L1541.0,891.5 L1541.7,891.0 L1542.4,890.2 L1543.1,890.6 L1543.8,891.2 L1544.5,890.8 L1545.2,890.1 L1545.9,890.0 L1546.6,889.3 L1547.3,889.8 L1548.0,890.2 L1548.7,889.0 L1549.4,889.1 L1550.1,889.2 L1550.8,888.9 L1551.5,889.9 L1552.2,890.1 L1552.9,890.7 L1553.6,890.6 L1554.3,890.5 L1555.0,891.6 L1555.7,892.4 L1556.4,892.8 L1557.1,892.5 L1557.8,892.4 L1558.5,892.6 L1559.2,893.3 L1559.9,893.4 L1560.6,893.4 L1561.3,894.0 L1562.0,894.2" fill="none" stroke="#d4692b" stroke-width="3" stroke-linejoin="round"/>
<rect x="1227" y="553" width="58" height="197" fill="none" stroke="#4fb2e6" stroke-width="2.6" stroke-dasharray="2.6,2.6"/>
<path d="M1227,750 L953,1080 M1285,750 L1564,1080" fill="none" stroke="#7cc3ec" stroke-width="2" stroke-dasharray="2,2.4"/>
<rect x="952.6" y="530.7" width="610.4" height="414.5" fill="none" stroke="#262626" stroke-width="2.6"/>
<path d="M952.6,945.2v9.5 M1105.2,945.2v9.5 M1257.8,945.2v9.5 M1410.4,945.2v9.5 M1563.0,945.2v9.5 M952.6,945.2h-8.5 M952.6,779.5h-8.5 M952.6,613.7h-8.5" stroke="#262626" stroke-width="2.6" fill="none"/>
<text x="941" y="952.7" font-size="32" text-anchor="end" fill="#231f20" >0</text>
<text x="941" y="787.0" font-size="32" text-anchor="end" fill="#231f20" >1</text>
<text x="941" y="621.2" font-size="32" text-anchor="end" fill="#231f20" >2</text>
<text x="946.3" y="983.5" font-size="32" text-anchor="middle" fill="#231f20" >-0.4</text>
<text x="1098.9" y="983.5" font-size="32" text-anchor="middle" fill="#231f20" >-0.2</text>
<text x="1255.2" y="983.5" font-size="32" text-anchor="middle" fill="#231f20" >0</text>
<text x="1406.1" y="983.5" font-size="32" text-anchor="middle" fill="#231f20" >0.2</text>
<text x="1557.7" y="983.5" font-size="32" text-anchor="middle" fill="#231f20" >0.4</text>
<text x="1256.5" y="1027.3" font-size="34.8" text-anchor="middle" fill="#231f20" >Bias voltage (V)</text>
<text transform="translate(891,753.8) rotate(-90)" font-size="34" text-anchor="middle" fill="#231f20">dI/dV (arb. Units)</text>
<text x="1436" y="578" font-size="44" text-anchor="start" fill="#231f20" >4.2 K</text>
<text x="1157" y="645" font-size="23" text-anchor="start" fill="#2a2a2a" >LHB</text>
<text x="1351.5" y="725" font-size="23.5" text-anchor="start" fill="#2a2a2a" >UHB</text>
<path d="M1189.5,648 L1201.5,648 L1195.5,666 Z" fill="#3a9fdc"/>
<path d="M1355.5,728 L1367.5,728 L1361.5,746 Z" fill="#e8566a"/>
<path d="M954.0,1453.6 L954.5,1453.7 L955.0,1453.9 L955.5,1454.0 L956.0,1453.4 L956.5,1453.0 L957.0,1452.2 L957.5,1452.4 L958.0,1452.8 L958.5,1453.1 L959.0,1453.2 L959.5,1452.4 L960.0,1452.4 L960.5,1451.9 L961.0,1452.9 L961.5,1453.0 L962.0,1453.5 L962.5,1452.9 L963.0,1452.8 L963.5,1452.7 L964.0,1452.6 L964.5,1452.2 L965.0,1452.0 L965.5,1451.9 L966.0,1451.8 L966.5,1451.7 L967.0,1451.7 L967.5,1452.0 L968.0,1451.6 L968.5,1452.0 L969.0,1451.5 L969.5,1451.8 L970.0,1451.2 L970.5,1451.3 L971.0,1451.3 L971.5,1451.7 L972.0,1451.5 L972.5,1451.6 L973.0,1452.0 L973.5,1452.2 L974.0,1452.0 L974.5,1451.7 L975.0,1451.6 L975.5,1451.8 L976.0,1451.7 L976.5,1451.6 L977.0,1450.9 L977.5,1450.6 L978.0,1450.8 L978.5,1451.2 L979.0,1451.4 L979.5,1451.5 L980.0,1451.4 L980.5,1451.6 L981.0,1451.7 L981.5,1452.1 L982.0,1452.1 L982.5,1451.9 L983.0,1452.2 L983.5,1451.9 L984.0,1451.6 L984.5,1451.1 L985.0,1450.8 L985.5,1450.3 L986.0,1449.9 L986.5,1450.2 L987.0,1450.7 L987.5,1450.5 L988.0,1449.9 L988.5,1449.7 L989.0,1450.0 L989.5,1450.5 L990.0,1450.7 L990.5,1451.1 L991.0,1451.1 L991.5,1451.1 L992.0,1450.4 L992.5,1450.0 L993.0,1449.9 L993.5,1450.4 L994.0,1450.8 L994.5,1450.9 L995.0,1450.9 L995.5,1450.9 L996.0,1450.2 L996.5,1449.8 L997.0,1449.7 L997.5,1450.3 L998.0,1450.0 L998.5,1450.2 L999.0,1449.9 L999.5,1450.2 L1000.0,1449.9 L1000.5,1450.2 L1001.0,1449.8 L1001.5,1449.9 L1002.0,1449.7 L1002.5,1449.8 L1003.0,1449.4 L1003.5,1448.8 L1004.0,1448.7 L1004.5,1448.8 L1005.0,1449.1 L1005.5,1449.1 L1006.0,1449.0 L1006.5,1449.1 L1007.0,1449.4 L1007.5,1449.4 L1008.0,1449.2 L1008.5,1449.0 L1009.0,1449.5 L1009.5,1449.4 L1010.0,1449.3 L1010.5,1448.3 L1011.0,1448.6 L1011.5,1448.6 L1012.0,1449.3 L1012.5,1448.9 L1013.0,1448.3 L1013.5,1448.1 L1014.0,1448.3 L1014.5,1448.3 L1015.0,1447.6 L1015.5,1447.4 L1016.0,1447.6 L1016.5,1448.6 L1017.0,1448.3 L1017.5,1448.1 L1018.0,1447.3 L1018.5,1447.0 L1019.0,1446.9 L1019.5,1447.3 L1020.0,1447.6 L1020.5,1447.7 L1021.0,1446.8 L1021.5,1447.0 L1022.0,1447.3 L1022.5,1447.6 L1023.0,1447.3 L1023.5,1447.2 L1024.0,1447.1 L1024.5,1447.0 L1025.0,1447.0 L1025.5,1446.3 L1026.0,1446.1 L1026.5,1445.8 L1027.0,1446.2 L1027.5,1446.2 L1028.0,1446.3 L1028.5,1446.5 L1029.0,1446.9 L1029.5,1446.8 L1030.0,1446.6 L1030.5,1446.5 L1031.0,1446.0 L1031.5,1445.6 L1032.0,1445.7 L1032.5,1445.5 L1033.0,1445.4 L1033.5,1444.7 L1034.0,1444.6 L1034.5,1444.1 L1035.0,1444.0 L1035.5,1444.1 L1036.0,1444.2 L1036.5,1443.5 L1037.0,1443.1 L1037.5,1442.9 L1038.0,1443.3 L1038.5,1443.3 L1039.0,1443.2 L1039.5,1442.9 L1040.0,1442.7 L1040.5,1442.0 L1041.0,1441.5 L1041.5,1440.9 L1042.0,1440.2 L1042.5,1439.5 L1043.0,1440.0 L1043.5,1440.0 L1044.0,1439.6 L1044.5,1438.6 L1045.0,1439.0 L1045.5,1439.3 L1046.0,1439.3 L1046.5,1438.5 L1047.0,1438.2 L1047.5,1438.1 L1048.0,1438.0 L1048.5,1437.6 L1049.0,1437.1 L1049.5,1436.8 L1050.0,1436.3 L1050.5,1435.6 L1051.0,1434.9 L1051.5,1434.2 L1052.0,1433.8 L1052.5,1433.1 L1053.0,1432.5 L1053.5,1431.1 L1054.0,1430.1 L1054.5,1430.0 L1055.0,1429.5 L1055.5,1429.3 L1056.0,1428.2 L1056.5,1428.0 L1057.0,1427.4 L1057.5,1426.7 L1058.0,1425.9 L1058.5,1425.2 L1059.0,1424.9 L1059.5,1424.4 L1060.0,1423.7 L1060.5,1423.3 L1061.0,1423.1 L1061.5,1422.8 L1062.0,1421.8 L1062.5,1421.1 L1063.0,1420.4 L1063.5,1420.2 L1064.0,1420.0 L1064.5,1419.4 L1065.0,1418.8 L1065.5,1417.5 L1066.0,1417.0 L1066.5,1416.3 L1067.0,1416.5 L1067.5,1416.1 L1068.0,1415.7 L1068.5,1415.3 L1069.0,1414.3 L1069.5,1414.2 L1070.0,1413.4 L1070.5,1413.5 L1071.0,1412.7 L1071.5,1411.9 L1072.0,1411.1 L1072.5,1411.0 L1073.0,1410.0 L1073.5,1409.5 L1074.0,1408.9 L1074.5,1409.1 L1075.0,1408.4 L1075.5,1408.0 L1076.0,1407.6 L1076.5,1408.0 L1077.0,1408.2 L1077.5,1408.1 L1078.0,1407.1 L1078.5,1406.4 L1079.0,1405.9 L1079.5,1406.3 L1080.0,1406.6 L1080.5,1406.8 L1081.0,1407.0 L1081.5,1406.9 L1082.0,1406.9 L1082.5,1406.2 L1083.0,1405.9 L1083.5,1405.4 L1084.0,1406.1 L1084.5,1406.3 L1085.0,1407.3 L1085.5,1407.4 L1086.0,1407.1 L1086.5,1407.2 L1087.0,1407.7 L1087.5,1409.0 L1088.0,1408.9 L1088.5,1408.7 L1089.0,1408.6 L1089.5,1408.9 L1090.0,1409.1 L1090.5,1409.2 L1091.0,1410.5 L1091.5,1411.1 L1092.0,1411.5 L1092.5,1411.1 L1093.0,1411.7 L1093.5,1412.8 L1094.0,1413.6 L1094.5,1414.3 L1095.0,1414.4 L1095.5,1414.7 L1096.0,1414.8 L1096.5,1414.9 L1097.0,1415.8 L1097.5,1416.4 L1098.0,1417.6 L1098.5,1417.4 L1099.0,1418.1 L1099.5,1418.3 L1100.0,1418.6 L1100.5,1419.1 L1101.0,1419.8 L1101.5,1421.0 L1102.0,1421.7 L1102.5,1422.5 L1103.0,1422.9 L1103.5,1423.4 L1104.0,1423.2 L1104.5,1423.6 L1105.0,1424.6 L1105.5,1425.8 L1106.0,1426.7 L1106.5,1426.9 L1107.0,1427.3 L1107.5,1428.3 L1108.0,1429.0 L1108.5,1430.3 L1109.0,1430.5 L1109.5,1431.0 L1110.0,1430.6 L1110.5,1431.2 L1111.0,1431.5 L1111.5,1432.2 L1112.0,1433.2 L1112.5,1434.5 L1113.0,1436.0 L1113.5,1436.4 L1114.0,1437.0 L1114.5,1437.7 L1115.0,1438.4 L1115.5,1439.2 L1116.0,1440.1 L1116.5,1440.2 L1117.0,1441.3 L1117.5,1441.8 L1118.0,1443.5 L1118.5,1444.5 L1119.0,1445.3 L1119.5,1446.2 L1120.0,1447.0 L1120.5,1448.0 L1121.0,1448.6 L1121.5,1449.3 L1122.0,1449.9 L1122.5,1450.8 L1123.0,1451.7 L1123.5,1453.1 L1124.0,1453.7 L1124.5,1454.5 L1125.0,1455.9 L1125.5,1457.6 L1126.0,1458.5 L1126.5,1458.8 L1127.0,1459.4 L1127.5,1460.4 L1128.0,1461.4 L1128.5,1462.3 L1129.0,1463.4 L1129.5,1464.7 L1130.0,1465.1 L1130.5,1466.1 L1131.0,1466.8 L1131.5,1468.6 L1132.0,1469.2 L1132.5,1470.0 L1133.0,1470.9 L1133.5,1470.8 L1134.0,1471.8 L1134.5,1472.0 L1135.0,1472.9 L1135.5,1472.3 L1136.0,1472.8 L1136.5,1473.6 L1137.0,1475.0 L1137.5,1475.5 L1138.0,1476.2 L1138.5,1476.6 L1139.0,1477.0 L1139.5,1477.6 L1140.0,1477.9 L1140.5,1478.2 L1141.0,1478.5 L1141.5,1478.8 L1142.0,1478.6 L1142.5,1478.6 L1143.0,1478.6 L1143.5,1479.1 L1144.0,1479.0 L1144.5,1479.1 L1145.0,1479.5 L1145.5,1480.2 L1146.0,1480.9 L1146.5,1480.8 L1147.0,1480.8 L1147.5,1480.4 L1148.0,1480.5 L1148.5,1480.5 L1149.0,1480.2 L1149.5,1480.3 L1150.0,1480.7 L1150.5,1481.5 L1151.0,1481.1 L1151.5,1480.7 L1152.0,1480.9 L1152.5,1481.1 L1153.0,1481.2 L1153.5,1480.5 L1154.0,1480.8 L1154.5,1480.8 L1155.0,1481.4 L1155.5,1481.2 L1156.0,1480.9 L1156.5,1479.8 L1157.0,1479.5 L1157.5,1479.0 L1158.0,1479.1 L1158.5,1478.7 L1159.0,1478.8 L1159.5,1478.1 L1160.0,1477.8 L1160.5,1476.2 L1161.0,1475.6 L1161.5,1474.8 L1162.0,1473.7 L1162.5,1472.5 L1163.0,1470.7 L1163.5,1469.7 L1164.0,1468.5 L1164.5,1467.1 L1165.0,1465.9 L1165.5,1464.6 L1166.0,1463.4 L1166.5,1462.1 L1167.0,1461.4 L1167.5,1460.3 L1168.0,1459.7 L1168.5,1458.5 L1169.0,1457.3 L1169.5,1456.3 L1170.0,1454.7 L1170.5,1453.9 L1171.0,1452.8 L1171.5,1451.6 L1172.0,1449.9 L1172.5,1447.9 L1173.0,1447.3 L1173.5,1445.9 L1174.0,1444.2 L1174.5,1442.2 L1175.0,1440.5 L1175.5,1439.2 L1176.0,1437.0 L1176.5,1434.7 L1177.0,1432.9 L1177.5,1431.4 L1178.0,1430.1 L1178.5,1428.6 L1179.0,1427.3 L1179.5,1426.6 L1180.0,1425.8 L1180.5,1424.9 L1181.0,1423.4 L1181.5,1421.6 L1182.0,1420.4 L1182.5,1419.5 L1183.0,1418.9 L1183.5,1417.7 L1184.0,1416.4 L1184.5,1415.1 L1185.0,1413.8 L1185.5,1412.5 L1186.0,1411.6 L1186.5,1410.5 L1187.0,1409.6 L1187.5,1408.7 L1188.0,1408.1 L1188.5,1407.2 L1189.0,1405.8 L1189.5,1404.7 L1190.0,1403.5 L1190.5,1403.0 L1191.0,1402.2 L1191.5,1401.3 L1192.0,1400.6 L1192.5,1399.7 L1193.0,1398.6 L1193.5,1397.0 L1194.0,1396.0 L1194.5,1395.0 L1195.0,1394.7 L1195.5,1394.0 L1196.0,1393.1 L1196.5,1391.6 L1197.0,1390.2 L1197.5,1389.3 L1198.0,1388.8 L1198.5,1388.3 L1199.0,1387.3 L1199.5,1385.9 L1200.0,1384.5 L1200.5,1383.3 L1201.0,1382.0 L1201.5,1380.6 L1202.0,1379.1 L1202.5,1377.5 L1203.0,1375.8 L1203.5,1374.0 L1204.0,1372.1 L1204.5,1370.2 L1205.0,1368.2 L1205.5,1366.2 L1206.0,1364.1 L1206.5,1362.1 L1207.0,1360.0 L1207.5,1358.0 L1208.0,1356.0 L1208.5,1354.0 L1209.0,1352.0 L1209.5,1349.9 L1210.0,1347.8 L1210.5,1345.7 L1211.0,1343.6 L1211.5,1341.4 L1212.0,1339.3 L1212.5,1337.1 L1213.0,1335.0 L1213.5,1332.8 L1214.0,1330.6 L1214.5,1328.4 L1215.0,1326.3 L1215.5,1324.1 L1216.0,1322.0 L1216.5,1319.8 L1217.0,1317.6 L1217.5,1315.4 L1218.0,1313.2 L1218.5,1311.0 L1219.0,1308.8 L1219.5,1306.7 L1220.0,1304.5 L1220.5,1302.3 L1221.0,1300.2 L1221.5,1298.1 L1222.0,1296.0 L1222.5,1294.0 L1223.0,1292.0 L1223.5,1290.1 L1224.0,1288.3 L1224.5,1286.5 L1225.0,1284.6 L1225.5,1282.8 L1226.0,1281.0 L1226.5,1279.1 L1227.0,1277.1 L1227.5,1275.0 L1228.0,1272.9 L1228.5,1270.6 L1229.0,1268.2 L1229.5,1265.5 L1230.0,1262.3 L1230.5,1258.9 L1231.0,1255.4 L1231.5,1251.8 L1232.0,1248.3 L1232.5,1245.0 L1233.0,1242.0 L1233.5,1239.4 L1234.0,1237.4 L1234.5,1235.7 L1235.0,1234.2 L1235.5,1232.8 L1236.0,1231.3 L1236.5,1229.7 L1237.0,1227.8 L1237.5,1225.6 L1238.0,1223.0 L1238.5,1220.0 L1239.0,1216.9 L1239.5,1213.4 L1240.0,1209.5 L1240.5,1205.1 L1241.0,1200.3 L1241.5,1195.2 L1242.0,1190.0 L1242.5,1184.9 L1243.0,1180.0 L1243.5,1174.9 L1244.0,1169.5 L1244.5,1164.1 L1245.0,1158.9 L1245.5,1154.3 L1246.0,1150.5 L1246.5,1147.7 L1247.0,1145.3 L1247.5,1143.3 L1248.0,1142.0 L1248.5,1141.0 L1249.0,1140.2 L1249.5,1139.6 L1250.0,1139.4 L1250.5,1139.7 L1251.0,1140.5 L1251.5,1141.6 L1252.0,1143.0 L1252.5,1145.0 L1253.0,1148.2 L1253.5,1152.7 L1254.0,1161.1 L1254.5,1173.3 L1255.0,1187.6 L1255.5,1202.0 L1256.0,1215.0 L1256.5,1228.1 L1257.0,1241.5 L1257.5,1254.4 L1258.0,1266.1 L1258.5,1277.3 L1259.0,1288.9 L1259.5,1297.6 L1260.0,1299.9 L1260.5,1292.1 L1261.0,1280.0 L1261.5,1265.6 L1262.0,1249.9 L1262.5,1238.3 L1263.0,1228.2 L1263.5,1220.0 L1264.0,1215.0 L1264.5,1211.8 L1265.0,1209.4 L1265.5,1208.0 L1266.0,1207.1 L1266.5,1206.4 L1267.0,1205.9 L1267.5,1205.8 L1268.0,1206.0 L1268.5,1206.6 L1269.0,1207.2 L1269.5,1208.0 L1270.0,1209.0 L1270.5,1210.2 L1271.0,1211.8 L1271.5,1213.5 L1272.0,1215.3 L1272.5,1217.2 L1273.0,1219.3 L1273.5,1221.6 L1274.0,1224.1 L1274.5,1226.7 L1275.0,1229.6 L1275.5,1232.6 L1276.0,1235.9 L1276.5,1239.9 L1277.0,1244.2 L1277.5,1248.8 L1278.0,1253.3 L1278.5,1257.6 L1279.0,1261.6 L1279.5,1265.1 L1280.0,1268.5 L1280.5,1271.8 L1281.0,1275.0 L1281.5,1278.1 L1282.0,1281.1 L1282.5,1284.0 L1283.0,1286.9 L1283.5,1289.7 L1284.0,1292.4 L1284.5,1295.2 L1285.0,1297.8 L1285.5,1300.4 L1286.0,1302.9 L1286.5,1305.4 L1287.0,1307.7 L1287.5,1310.1 L1288.0,1312.4 L1288.5,1314.7 L1289.0,1317.1 L1289.5,1319.5 L1290.0,1322.0 L1290.5,1324.6 L1291.0,1327.2 L1291.5,1329.8 L1292.0,1332.4 L1292.5,1335.0 L1293.0,1337.4 L1293.5,1339.8 L1294.0,1342.0 L1294.5,1344.2 L1295.0,1346.4 L1295.5,1348.6 L1296.0,1350.7 L1296.5,1352.8 L1297.0,1354.6 L1297.5,1356.2 L1298.0,1357.5 L1298.5,1358.5 L1299.0,1359.3 L1299.5,1360.0 L1300.0,1360.6 L1300.5,1361.2 L1301.0,1361.8 L1301.5,1362.3 L1302.0,1362.8 L1302.5,1363.2 L1303.0,1363.6 L1303.5,1364.0 L1304.0,1364.4 L1304.5,1364.8 L1305.0,1365.2 L1305.5,1365.6 L1306.0,1366.0 L1306.5,1366.4 L1307.0,1366.8 L1307.5,1367.3 L1308.0,1367.7 L1308.5,1368.1 L1309.0,1368.5 L1309.5,1368.9 L1310.0,1369.3 L1310.5,1369.6 L1311.0,1370.0 L1311.5,1370.4 L1312.0,1370.7 L1312.5,1371.0 L1313.0,1371.4 L1313.5,1371.7 L1314.0,1372.0 L1314.5,1372.2 L1315.0,1372.5 L1315.5,1372.7 L1316.0,1373.0 L1316.5,1373.2 L1317.0,1373.4 L1317.5,1373.6 L1318.0,1373.8 L1318.5,1373.9 L1319.0,1374.1 L1319.5,1374.3 L1320.0,1374.5 L1320.5,1374.6 L1321.0,1374.8 L1321.5,1375.0 L1322.0,1375.2 L1322.5,1375.4 L1323.0,1375.6 L1323.5,1375.8 L1324.0,1376.0 L1324.5,1376.2 L1325.0,1376.5 L1325.5,1376.7 L1326.0,1377.0 L1326.5,1377.2 L1327.0,1377.5 L1327.5,1377.7 L1328.0,1378.0 L1328.5,1378.3 L1329.0,1378.6 L1329.5,1378.9 L1330.0,1379.2 L1330.5,1380.1 L1331.0,1380.3 L1331.5,1379.7 L1332.0,1380.2 L1332.5,1380.3 L1333.0,1381.3 L1333.5,1381.5 L1334.0,1381.9 L1334.5,1382.0 L1335.0,1382.5 L1335.5,1383.7 L1336.0,1383.8 L1336.5,1384.4 L1337.0,1384.7 L1337.5,1386.0 L1338.0,1386.2 L1338.5,1386.7 L1339.0,1387.6 L1339.5,1388.8 L1340.0,1389.2 L1340.5,1389.5 L1341.0,1389.8 L1341.5,1390.7 L1342.0,1390.9 L1342.5,1392.1 L1343.0,1392.7 L1343.5,1393.7 L1344.0,1394.1 L1344.5,1394.5 L1345.0,1394.9 L1345.5,1395.7 L1346.0,1396.4 L1346.5,1397.3 L1347.0,1397.7 L1347.5,1399.0 L1348.0,1399.7 L1348.5,1400.6 L1349.0,1401.1 L1349.5,1401.7 L1350.0,1401.9 L1350.5,1402.4 L1351.0,1403.2 L1351.5,1403.8 L1352.0,1404.8 L1352.5,1405.4 L1353.0,1406.0 L1353.5,1406.4 L1354.0,1406.5 L1354.5,1407.3 L1355.0,1407.5 L1355.5,1408.4 L1356.0,1408.9 L1356.5,1409.3 L1357.0,1410.3 L1357.5,1411.0 L1358.0,1411.4 L1358.5,1411.5 L1359.0,1411.6 L1359.5,1413.1 L1360.0,1413.5 L1360.5,1414.2 L1361.0,1414.1 L1361.5,1414.8 L1362.0,1415.0 L1362.5,1415.3 L1363.0,1415.5 L1363.5,1416.0 L1364.0,1416.9 L1364.5,1417.6 L1365.0,1418.0 L1365.5,1418.3 L1366.0,1418.5 L1366.5,1419.1 L1367.0,1419.2 L1367.5,1419.9 L1368.0,1420.7 L1368.5,1421.7 L1369.0,1422.0 L1369.5,1422.3 L1370.0,1422.6 L1370.5,1423.1 L1371.0,1423.8 L1371.5,1424.4 L1372.0,1425.7 L1372.5,1426.1 L1373.0,1426.8 L1373.5,1426.6 L1374.0,1426.9 L1374.5,1426.9 L1375.0,1427.6 L1375.5,1428.4 L1376.0,1429.7 L1376.5,1430.0 L1377.0,1430.4 L1377.5,1430.9 L1378.0,1431.4 L1378.5,1431.8 L1379.0,1432.4 L1379.5,1433.0 L1380.0,1433.3 L1380.5,1433.4 L1381.0,1433.8 L1381.5,1433.9 L1382.0,1434.3 L1382.5,1434.7 L1383.0,1434.9 L1383.5,1434.8 L1384.0,1435.7 L1384.5,1436.7 L1385.0,1437.9 L1385.5,1437.7 L1386.0,1438.5 L1386.5,1438.6 L1387.0,1438.9 L1387.5,1438.9 L1388.0,1439.5 L1388.5,1440.7 L1389.0,1441.1 L1389.5,1440.9 L1390.0,1440.4 L1390.5,1440.8 L1391.0,1441.6 L1391.5,1442.2 L1392.0,1442.3 L1392.5,1442.5 L1393.0,1443.0 L1393.5,1443.4 L1394.0,1443.2 L1394.5,1443.3 L1395.0,1444.0 L1395.5,1444.7 L1396.0,1445.8 L1396.5,1445.7 L1397.0,1446.0 L1397.5,1445.7 L1398.0,1446.1 L1398.5,1446.3 L1399.0,1446.6 L1399.5,1446.6 L1400.0,1447.5 L1400.5,1447.6 L1401.0,1448.1 L1401.5,1447.6 L1402.0,1447.7 L1402.5,1447.9 L1403.0,1448.4 L1403.5,1448.9 L1404.0,1449.3 L1404.5,1450.0 L1405.0,1450.0 L1405.5,1450.2 L1406.0,1450.6 L1406.5,1451.1 L1407.0,1451.1 L1407.5,1451.0 L1408.0,1451.9 L1408.5,1452.6 L1409.0,1453.5 L1409.5,1453.3 L1410.0,1454.0 L1410.5,1453.5 L1411.0,1453.8 L1411.5,1453.9 L1412.0,1455.1 L1412.5,1455.6 L1413.0,1456.2 L1413.5,1456.0 L1414.0,1456.1 L1414.5,1456.5 L1415.0,1457.3 L1415.5,1458.1 L1416.0,1458.4 L1416.5,1458.2 L1417.0,1458.8 L1417.5,1458.9 L1418.0,1459.7 L1418.5,1459.6 L1419.0,1459.4 L1419.5,1458.9 L1420.0,1458.6 L1420.5,1459.4 L1421.0,1460.5 L1421.5,1461.3 L1422.0,1461.9 L1422.5,1461.6 L1423.0,1461.9 L1423.5,1461.8 L1424.0,1462.5 L1424.5,1462.8 L1425.0,1463.3 L1425.5,1463.8 L1426.0,1464.3 L1426.5,1464.3 L1427.0,1464.3 L1427.5,1464.3 L1428.0,1464.4 L1428.5,1464.8 L1429.0,1465.2 L1429.5,1465.1 L1430.0,1464.6 L1430.5,1464.4 L1431.0,1464.6 L1431.5,1464.4 L1432.0,1464.0 L1432.5,1463.2 L1433.0,1462.5 L1433.5,1461.5 L1434.0,1461.1 L1434.5,1460.7 L1435.0,1460.5 L1435.5,1459.9 L1436.0,1458.8 L1436.5,1457.3 L1437.0,1456.0 L1437.5,1455.5 L1438.0,1455.6 L1438.5,1455.1 L1439.0,1454.4 L1439.5,1453.8 L1440.0,1454.0 L1440.5,1454.3 L1441.0,1454.4 L1441.5,1453.8 L1442.0,1453.0 L1442.5,1452.1 L1443.0,1451.4 L1443.5,1451.0 L1444.0,1451.1 L1444.5,1451.7 L1445.0,1451.8 L1445.5,1451.2 L1446.0,1450.3 L1446.5,1449.7 L1447.0,1448.8 L1447.5,1448.7 L1448.0,1448.5 L1448.5,1448.7 L1449.0,1448.2 L1449.5,1447.2 L1450.0,1447.1 L1450.5,1447.0 L1451.0,1446.3 L1451.5,1445.6 L1452.0,1445.2 L1452.5,1446.1 L1453.0,1445.8 L1453.5,1445.5 L1454.0,1445.3 L1454.5,1445.5 L1455.0,1445.4 L1455.5,1444.9 L1456.0,1444.8 L1456.5,1444.6 L1457.0,1445.0 L1457.5,1444.7 L1458.0,1445.0 L1458.5,1445.0 L1459.0,1445.6 L1459.5,1445.4 L1460.0,1445.2 L1460.5,1445.0 L1461.0,1445.0 L1461.5,1445.2 L1462.0,1445.1 L1462.5,1445.6 L1463.0,1446.1 L1463.5,1446.0 L1464.0,1445.7 L1464.5,1444.8 L1465.0,1445.3 L1465.5,1445.4 L1466.0,1445.8 L1466.5,1445.5 L1467.0,1445.6 L1467.5,1446.4 L1468.0,1447.3 L1468.5,1447.7 L1469.0,1447.2 L1469.5,1447.0 L1470.0,1446.9 L1470.5,1446.9 L1471.0,1446.9 L1471.5,1447.5 L1472.0,1448.2 L1472.5,1448.7 L1473.0,1448.5 L1473.5,1448.2 L1474.0,1448.6 L1474.5,1449.0 L1475.0,1449.9 L1475.5,1449.6 L1476.0,1450.1 L1476.5,1450.0 L1477.0,1450.3 L1477.5,1450.1 L1478.0,1450.7 L1478.5,1451.3 L1479.0,1451.5 L1479.5,1451.2 L1480.0,1450.7 L1480.5,1451.4 L1481.0,1452.0 L1481.5,1452.4 L1482.0,1452.3 L1482.5,1451.3 L1483.0,1451.9 L1483.5,1452.1 L1484.0,1453.1 L1484.5,1453.2 L1485.0,1453.3 L1485.5,1453.2 L1486.0,1452.9 L1486.5,1453.0 L1487.0,1453.6 L1487.5,1454.0 L1488.0,1454.0 L1488.5,1454.1 L1489.0,1453.9 L1489.5,1454.8 L1490.0,1454.9 L1490.5,1455.2 L1491.0,1454.8 L1491.5,1455.2 L1492.0,1455.8 L1492.5,1456.5 L1493.0,1456.0 L1493.5,1456.4 L1494.0,1456.0 L1494.5,1456.8 L1495.0,1457.0 L1495.5,1456.9 L1496.0,1456.4 L1496.5,1456.0 L1497.0,1456.1 L1497.5,1456.1 L1498.0,1456.4 L1498.5,1457.3 L1499.0,1457.9 L1499.5,1458.2 L1500.0,1459.0 L1500.5,1459.4 L1501.0,1459.3 L1501.5,1458.5 L1502.0,1458.7 L1502.5,1458.9 L1503.0,1459.3 L1503.5,1459.4 L1504.0,1459.9 L1504.5,1459.9 L1505.0,1460.0 L1505.5,1459.7 L1506.0,1459.5 L1506.5,1459.6 L1507.0,1459.9 L1507.5,1460.5 L1508.0,1460.7 L1508.5,1460.9 L1509.0,1461.6 L1509.5,1461.9 L1510.0,1462.5 L1510.5,1461.8 L1511.0,1462.1 L1511.5,1462.2 L1512.0,1462.8 L1512.5,1462.4 L1513.0,1462.6 L1513.5,1462.4 L1514.0,1462.4 L1514.5,1461.7 L1515.0,1462.1 L1515.5,1462.5 L1516.0,1463.3 L1516.5,1463.5 L1517.0,1464.2 L1517.5,1464.1 L1518.0,1464.1 L1518.5,1463.8 L1519.0,1463.7 L1519.5,1463.5 L1520.0,1463.4 L1520.5,1463.8 L1521.0,1463.9 L1521.5,1464.2 L1522.0,1464.5 L1522.5,1464.2 L1523.0,1464.1 L1523.5,1463.6 L1524.0,1464.3 L1524.5,1464.3 L1525.0,1464.4 L1525.5,1465.1 L1526.0,1465.3 L1526.5,1465.5 L1527.0,1465.1 L1527.5,1465.4 L1528.0,1465.2 L1528.5,1465.5 L1529.0,1465.2 L1529.5,1465.4 L1530.0,1465.1 L1530.5,1465.6 L1531.0,1466.3 L1531.5,1466.3 L1532.0,1467.1 L1532.5,1466.9 L1533.0,1467.5 L1533.5,1467.2 L1534.0,1467.2 L1534.5,1466.8 L1535.0,1467.1 L1535.5,1467.1 L1536.0,1467.3 L1536.5,1466.9 L1537.0,1466.6 L1537.5,1466.8 L1538.0,1467.3 L1538.5,1467.6 L1539.0,1467.7 L1539.5,1467.6 L1540.0,1467.5 L1540.5,1467.2 L1541.0,1467.6 L1541.5,1468.4 L1542.0,1468.9 L1542.5,1469.6 L1543.0,1469.5 L1543.5,1469.3 L1544.0,1468.2 L1544.5,1468.6 L1545.0,1468.8 L1545.5,1469.2 L1546.0,1468.7 L1546.5,1468.7 L1547.0,1468.8 L1547.5,1469.2 L1548.0,1469.7 L1548.5,1470.0 L1549.0,1470.2 L1549.5,1470.1 L1550.0,1469.8 L1550.5,1469.6 L1551.0,1469.3 L1551.5,1469.9 L1552.0,1470.2 L1552.5,1471.0 L1553.0,1470.5 L1553.5,1470.4 L1554.0,1470.3 L1554.5,1470.4 L1555.0,1470.4 L1555.5,1470.4 L1556.0,1470.8 L1556.5,1471.0 L1557.0,1471.5 L1557.5,1472.1 L1558.0,1472.5 L1558.5,1472.3 L1559.0,1471.7 L1559.5,1472.1 L1560.0,1472.3 L1560.5,1472.7 L1561.0,1472.4 L1561.5,1472.3 L1562.0,1472.2" fill="none" stroke="#d4692b" stroke-width="3" stroke-linejoin="round"/>
<path d="M1249.4,1139 V1120.7 H1267.6 V1204" fill="none" stroke="#777" stroke-width="1.6" stroke-dasharray="1.5,1"/>
<path d="M1252,1120.7 h13.5 M1252,1120.7 l3,-1.8 v3.6 z M1265.5,1120.7 l-3,-1.8 v3.6 z" stroke="#222" stroke-width="1.2" fill="#222"/>
<text x="1257.8" y="1114.3" font-size="30" text-anchor="middle" fill="#222" >Δ</text>
<rect x="953.1" y="1080.4" width="611.4" height="413.3" fill="none" stroke="#262626" stroke-width="2.6"/>
<path d="M953.1,1493.7v9.5 M1106.0,1493.7v9.5 M1258.8,1493.7v9.5 M1411.7,1493.7v9.5 M1564.5,1493.7v9.5 M953.1,1493.7h-8.5 M953.1,1329.1h-8.5 M953.1,1164.5h-8.5" stroke="#262626" stroke-width="2.6" fill="none"/>
<text x="941" y="1501.2" font-size="32" text-anchor="end" fill="#231f20" >0</text>
<text x="941" y="1336.6" font-size="32" text-anchor="end" fill="#231f20" >1</text>
<text x="941" y="1172.0" font-size="32" text-anchor="end" fill="#231f20" >2</text>
<text x="947.1" y="1531.7" font-size="32" text-anchor="middle" fill="#231f20" >-20</text>
<text x="1099.0" y="1531.7" font-size="32" text-anchor="middle" fill="#231f20" >-10</text>
<text x="1257.0" y="1531.7" font-size="32" text-anchor="middle" fill="#231f20" >0</text>
<text x="1407.9" y="1531.7" font-size="32" text-anchor="middle" fill="#231f20" >10</text>
<text x="1559.7" y="1531.7" font-size="32" text-anchor="middle" fill="#231f20" >20</text>
<text x="1264" y="1576.8" font-size="34.7" text-anchor="middle" fill="#231f20" >Bias voltage (mV)</text>
<text transform="translate(891,1269) rotate(-90)" font-size="34" text-anchor="middle" fill="#231f20">dI/dV (arb. Units)</text>
<text x="1414.8" y="1139.8" font-size="44" text-anchor="start" fill="#231f20" >0.34 K</text>
<clipPath id="clipg"><rect x="948.4" y="1639.0" width="617.5000000000001" height="381.5"/></clipPath>
<path clip-path="url(#clipg)" d="M958.9,1978.2 L961.9,1978.1 L965.0,1977.9 L968.0,1977.7 L971.1,1977.5 L974.1,1977.2 L977.2,1976.9 L980.2,1976.6 L983.3,1976.2 L986.3,1975.8 L989.4,1975.3 L992.5,1974.8 L995.5,1974.3 L998.6,1973.8 L1001.6,1973.2 L1004.7,1972.6 L1007.7,1972.0 L1010.8,1971.3 L1013.8,1970.6 L1016.9,1969.9 L1019.9,1969.2 L1023.0,1968.4 L1026.0,1967.6 L1029.1,1966.7 L1032.1,1965.9 L1035.2,1965.0 L1038.2,1964.1 L1041.3,1963.1 L1044.3,1962.2 L1047.4,1961.2 L1050.4,1960.2 L1053.5,1959.2 L1056.5,1958.1 L1059.6,1957.0 L1062.6,1955.9 L1065.7,1954.8 L1068.7,1953.7 L1071.8,1952.5 L1074.8,1951.3 L1077.9,1950.1 L1080.9,1948.9 L1084.0,1947.7 L1087.0,1946.5 L1090.1,1945.2 L1093.1,1943.9 L1096.2,1942.6 L1099.2,1941.3 L1102.3,1940.0 L1105.3,1938.6 L1108.4,1937.2 L1111.4,1935.9 L1114.5,1934.5 L1117.5,1933.1 L1120.6,1931.7 L1123.6,1930.2 L1126.7,1928.8 L1129.7,1927.3 L1132.8,1925.9 L1135.8,1924.4 L1138.9,1922.9 L1141.9,1921.4 L1145.0,1919.9 L1148.0,1918.4 L1151.1,1916.8 L1154.1,1915.3 L1157.2,1913.7 L1160.2,1912.2 L1163.3,1910.6 L1166.3,1909.0 L1169.4,1907.4 L1172.4,1905.8 L1175.5,1904.2 L1178.5,1902.6 L1181.6,1901.0 L1184.6,1899.4 L1187.7,1897.7 L1190.7,1896.1 L1193.8,1894.4 L1196.8,1892.8 L1199.9,1891.1 L1202.9,1889.4 L1206.0,1887.8 L1209.0,1886.1 L1212.1,1884.4 L1215.1,1882.7 L1218.2,1881.0 L1221.2,1879.3 L1224.3,1877.6 L1227.3,1875.8 L1230.4,1874.1 L1233.4,1872.4 L1236.5,1870.6 L1239.5,1868.9 L1242.6,1867.2 L1245.6,1865.4 L1248.7,1863.6 L1251.7,1861.9 L1254.8,1860.1 L1257.8,1858.4 L1260.9,1856.6 L1263.9,1854.8 L1267.0,1853.0 L1270.0,1851.2 L1273.1,1849.4 L1276.1,1847.7 L1279.2,1845.9 L1282.2,1844.1 L1285.3,1842.2 L1288.3,1840.4 L1291.4,1838.6 L1294.4,1836.8 L1297.5,1835.0 L1300.5,1833.2 L1303.6,1831.3 L1306.6,1829.5 L1309.7,1827.7 L1312.7,1825.9 L1315.8,1824.0 L1318.8,1822.2 L1321.9,1820.3 L1324.9,1818.5 L1328.0,1816.6 L1331.0,1814.8 L1334.1,1812.9 L1337.1,1811.1 L1340.2,1809.2 L1343.2,1807.4 L1346.3,1805.5 L1349.3,1803.6 L1352.4,1801.8 L1355.4,1799.9 L1358.5,1798.0 L1361.5,1796.1 L1364.6,1794.3 L1367.6,1792.4 L1370.7,1790.5 L1373.7,1788.6 L1376.8,1786.7 L1379.8,1784.9 L1382.9,1783.0 L1385.9,1781.1 L1389.0,1779.2 L1392.0,1777.3 L1395.1,1775.4 L1398.1,1773.5 L1401.2,1771.6 L1404.2,1769.7 L1407.3,1767.8 L1410.3,1765.9 L1413.4,1764.0 L1416.4,1762.1 L1419.5,1760.2 L1422.5,1758.2 L1425.6,1756.3 L1428.6,1754.4 L1431.7,1752.5 L1434.7,1750.6 L1437.8,1748.7 L1440.8,1746.7 L1443.9,1744.8 L1446.9,1742.9 L1450.0,1741.0 L1453.0,1739.1 L1456.1,1737.1 L1459.1,1735.2 L1462.2,1733.3 L1465.2,1731.3 L1468.3,1729.4 L1471.3,1727.5 L1474.4,1725.5 L1477.4,1723.6 L1480.5,1721.7 L1483.5,1719.7 L1486.6,1717.8 L1489.6,1715.9 L1492.7,1713.9 L1495.7,1712.0 L1498.8,1710.0 L1501.8,1708.1 L1504.9,1706.1 L1507.9,1704.2 L1511.0,1702.3 L1514.0,1700.3 L1517.1,1698.4 L1520.1,1696.4 L1523.2,1694.5 L1526.2,1692.5 L1529.3,1690.6 L1532.3,1688.6 L1535.4,1686.7 L1538.4,1684.7 L1541.5,1682.7 L1544.5,1680.8 L1547.6,1678.8 L1550.6,1676.9 L1553.7,1674.9 L1556.7,1673.0 L1559.8,1671.0 L1562.8,1669.0 L1565.9,1667.1" fill="none" stroke="#e2232b" stroke-width="5"/>
<circle cx="958.9" cy="1974.7" r="7.2" fill="none" stroke="#000" stroke-width="7.2"/>
<circle cx="1010.1" cy="1970.9" r="7.2" fill="none" stroke="#000" stroke-width="7.2"/>
<circle cx="1071.9" cy="1948.0" r="7.2" fill="none" stroke="#000" stroke-width="7.2"/>
<circle cx="1133.7" cy="1936.6" r="7.2" fill="none" stroke="#000" stroke-width="7.2"/>
<circle cx="1195.4" cy="1883.2" r="7.2" fill="none" stroke="#000" stroke-width="7.2"/>
<circle cx="1257.2" cy="1864.1" r="7.2" fill="none" stroke="#000" stroke-width="7.2"/>
<circle cx="1318.9" cy="1837.4" r="7.2" fill="none" stroke="#000" stroke-width="7.2"/>
<circle cx="1380.7" cy="1791.6" r="7.2" fill="none" stroke="#000" stroke-width="7.2"/>
<circle cx="1442.4" cy="1753.5" r="7.2" fill="none" stroke="#000" stroke-width="7.2"/>
<circle cx="1504.2" cy="1715.3" r="7.2" fill="none" stroke="#000" stroke-width="7.2"/>
<rect x="948.4" y="1639.0" width="617.5" height="381.5" fill="none" stroke="#231f20" stroke-width="2.6"/>
<path d="M1102.8,2020.5v-7 M1102.8,1639.0v7 M1257.2,2020.5v-7 M1257.2,1639.0v7 M1411.5,2020.5v-7 M1411.5,1639.0v7 M948.4,1944.2h7 M1565.9,1944.2h-7 M948.4,1867.9h7 M1565.9,1867.9h-7 M948.4,1791.6h7 M1565.9,1791.6h-7 M948.4,1715.3h7 M1565.9,1715.3h-7" stroke="#231f20" stroke-width="2.4" fill="none"/>
<text x="928.5" y="2032.5" font-size="39.5" text-anchor="end" fill="#231f20" >1</text>
<text x="928.5" y="1956.2" font-size="39.5" text-anchor="end" fill="#231f20" >2</text>
<text x="928.5" y="1879.9" font-size="39.5" text-anchor="end" fill="#231f20" >3</text>
<text x="928.5" y="1803.6" font-size="39.5" text-anchor="end" fill="#231f20" >4</text>
<text x="928.5" y="1727.3" font-size="39.5" text-anchor="end" fill="#231f20" >5</text>
<text x="928.5" y="1651.0" font-size="39.5" text-anchor="end" fill="#231f20" >6</text>
<text x="947.4" y="2069" font-size="39.5" text-anchor="middle" fill="#231f20" >0</text>
<text x="1101.8" y="2069" font-size="39.5" text-anchor="middle" fill="#231f20" >5</text>
<text x="1256.2" y="2069" font-size="39.5" text-anchor="middle" fill="#231f20" >10</text>
<text x="1410.5" y="2069" font-size="39.5" text-anchor="middle" fill="#231f20" >15</text>
<text x="1564.9" y="2069" font-size="39.5" text-anchor="middle" fill="#231f20" >20</text>
<text x="1256.8" y="2114.4" font-size="39" text-anchor="middle" fill="#231f20" >Temperature (K)</text>
<text transform="translate(877.4,1828.6) rotate(-90)" font-size="38.5" text-anchor="middle" fill="#231f20"><tspan font-style="italic">Γ</tspan> (meV)</text>
<circle cx="1051.8" cy="1689" r="7.2" fill="none" stroke="#000" stroke-width="7.2"/>
<text x="1112.5" y="1699.7" font-size="39.5" text-anchor="start" fill="#231f20" >Experiment</text>
<line x1="1012" y1="1733" x2="1091.6" y2="1733" stroke="#e2232b" stroke-width="5.2"/>
<text x="1112.5" y="1748.6" font-size="39.5" text-anchor="start" fill="#231f20" >Fit</text>
<text x="1369" y="1964.2" font-size="38.5" fill="#231f20"><tspan font-style="italic">T</tspan><tspan font-size="24" dy="14">K</tspan><tspan dy="-14"> = 18 K</tspan></text>
<text x="12.5" y="46.5" font-size="40" text-anchor="start" fill="#231f20" >(a)</text>
<text x="837.2" y="46.5" font-size="40" text-anchor="start" fill="#231f20" >(b)</text>
<text x="13" y="497" font-size="40" text-anchor="start" fill="#231f20" >(c)</text>
<text x="837" y="496.5" font-size="40" text-anchor="start" fill="#231f20" >(e)</text>
<text x="12" y="1277" font-size="40" text-anchor="start" fill="#231f20" >(d)</text>
<text x="843" y="1080" font-size="40" text-anchor="start" fill="#231f20" >(f)</text>
<text x="837.5" y="1605" font-size="40" text-anchor="start" fill="#231f20" >(g)</text>
</svg></body></html>
